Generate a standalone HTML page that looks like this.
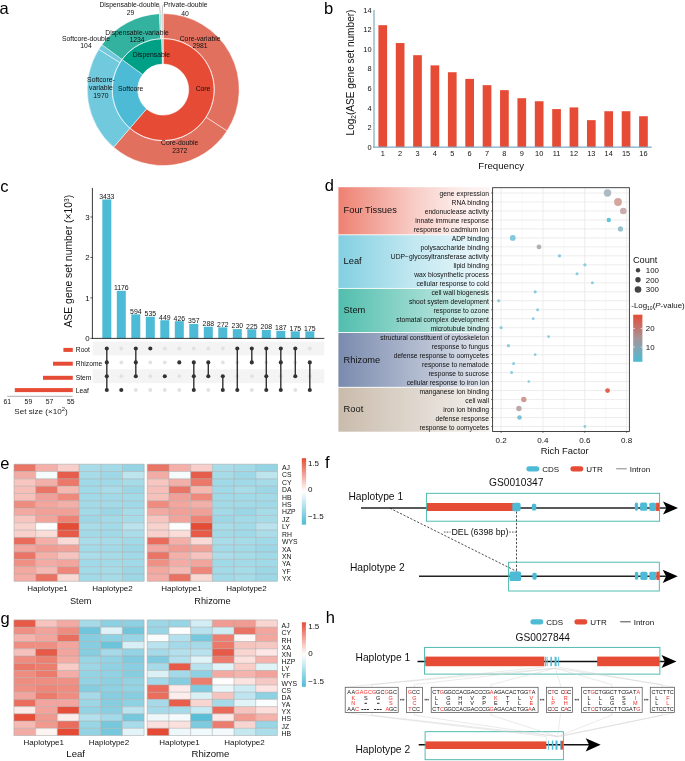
<!DOCTYPE html>
<html><head><meta charset="utf-8"><style>
html,body{margin:0;padding:0;background:#fff;}
svg{display:block;will-change:transform;}
svg text{font-family:"Liberation Sans",sans-serif;}
</style></head><body>
<svg width="685" height="761" viewBox="0 0 685 761" font-family="Liberation Sans">
<rect width="685" height="761" fill="#fff"/>
<text x="-0.50" y="14.00" font-size="16.5" text-anchor="start" fill="#000" >a</text>
<text x="324.00" y="13.80" font-size="16.5" text-anchor="start" fill="#000" >b</text>
<text x="0.30" y="191.80" font-size="16.5" text-anchor="start" fill="#000" >c</text>
<text x="324.80" y="191.40" font-size="16.5" text-anchor="start" fill="#000" >d</text>
<text x="0.20" y="468.50" font-size="16.5" text-anchor="start" fill="#000" >e</text>
<text x="324.90" y="468.00" font-size="16.5" text-anchor="start" fill="#000" >f</text>
<text x="0.50" y="624.00" font-size="16.5" text-anchor="start" fill="#000" >g</text>
<text x="325.80" y="622.80" font-size="16.5" text-anchor="start" fill="#000" >h</text>
<path d="M163.20,13.60 A76.0,76.0 0 0 1 226.99,130.91 L206.01,117.32 A51.0,51.0 0 0 0 163.20,38.60 Z" fill="#E2705F" stroke="#fff" stroke-width="0.5" stroke-linejoin="round"/>
<path d="M226.99,130.91 A76.0,76.0 0 0 1 113.60,147.18 L129.91,128.24 A51.0,51.0 0 0 0 206.01,117.32 Z" fill="#E2705F" stroke="#fff" stroke-width="0.5" stroke-linejoin="round"/>
<path d="M113.60,147.18 A76.0,76.0 0 0 1 98.73,49.35 L119.94,62.59 A51.0,51.0 0 0 0 129.91,128.24 Z" fill="#71C9DD" stroke="#fff" stroke-width="0.5" stroke-linejoin="round"/>
<path d="M98.73,49.35 A76.0,76.0 0 0 1 101.92,44.64 L122.08,59.43 A51.0,51.0 0 0 0 119.94,62.59 Z" fill="#71C9DD" stroke="#fff" stroke-width="0.5" stroke-linejoin="round"/>
<path d="M101.92,44.64 A76.0,76.0 0 0 1 159.43,13.69 L160.67,38.66 A51.0,51.0 0 0 0 122.08,59.43 Z" fill="#33B39F" stroke="#fff" stroke-width="0.5" stroke-linejoin="round"/>
<path d="M159.43,13.69 A76.0,76.0 0 0 1 161.01,13.63 L161.73,38.62 A51.0,51.0 0 0 0 160.67,38.66 Z" fill="#8ED3C6" stroke="#fff" stroke-width="0.5" stroke-linejoin="round"/>
<path d="M161.01,13.63 A76.0,76.0 0 0 1 163.20,13.60 L163.20,38.60 A51.0,51.0 0 0 0 161.73,38.62 Z" fill="#D9CFCF" stroke="#fff" stroke-width="0.5" stroke-linejoin="round"/>
<path d="M163.20,38.60 A51.0,51.0 0 1 1 129.91,128.24 L146.56,108.92 A25.5,25.5 0 1 0 163.20,64.10 Z" fill="#E64B35" stroke="#fff" stroke-width="0.5" stroke-linejoin="round"/>
<path d="M129.91,128.24 A51.0,51.0 0 0 1 122.08,59.43 L142.64,74.52 A25.5,25.5 0 0 0 146.56,108.92 Z" fill="#4DBBD5" stroke="#fff" stroke-width="0.5" stroke-linejoin="round"/>
<path d="M122.08,59.43 A51.0,51.0 0 0 1 161.73,38.62 L162.47,64.11 A25.5,25.5 0 0 0 142.64,74.52 Z" fill="#00A087" stroke="#fff" stroke-width="0.5" stroke-linejoin="round"/>
<path d="M161.73,38.62 A51.0,51.0 0 0 1 163.20,38.60 L163.20,64.10 A25.5,25.5 0 0 0 162.47,64.11 Z" fill="#C9BDBD" stroke="#fff" stroke-width="0.5" stroke-linejoin="round"/>
<circle cx="163.2" cy="89.6" r="51.0" fill="none" stroke="#fff" stroke-width="0.6" stroke-opacity="0.8"/>
<text x="129.50" y="7.20" font-size="6.8" text-anchor="middle" fill="#111" >Dispensable-double</text>
<text x="130.50" y="15.20" font-size="6.8" text-anchor="middle" fill="#111" >29</text>
<text x="163.80" y="7.20" font-size="6.8" text-anchor="start" fill="#111" >Private-double</text>
<text x="185.00" y="15.60" font-size="6.8" text-anchor="middle" fill="#111" >40</text>
<text x="86.00" y="40.60" font-size="6.8" text-anchor="middle" fill="#111" >Softcore-double</text>
<text x="86.00" y="48.00" font-size="6.8" text-anchor="middle" fill="#111" >104</text>
<text x="137.00" y="34.50" font-size="6.8" text-anchor="middle" fill="#111" >Dispensable-variable</text>
<text x="137.00" y="41.70" font-size="6.8" text-anchor="middle" fill="#111" >1234</text>
<text x="200.10" y="40.80" font-size="6.8" text-anchor="middle" fill="#111" >Core-variable</text>
<text x="200.10" y="48.20" font-size="6.8" text-anchor="middle" fill="#111" >2981</text>
<text x="100.90" y="82.20" font-size="6.8" text-anchor="middle" fill="#111" >Softcore-</text>
<text x="100.90" y="90.30" font-size="6.8" text-anchor="middle" fill="#111" >variable</text>
<text x="100.90" y="98.30" font-size="6.8" text-anchor="middle" fill="#111" >1970</text>
<text x="151.40" y="56.50" font-size="6.8" text-anchor="middle" fill="#111" >Dispensable</text>
<text x="130.70" y="91.30" font-size="6.8" text-anchor="middle" fill="#111" >Softcore</text>
<text x="203.00" y="91.10" font-size="6.8" text-anchor="middle" fill="#111" >Core</text>
<text x="179.70" y="145.00" font-size="6.8" text-anchor="middle" fill="#111" >Core-double</text>
<text x="179.70" y="152.60" font-size="6.8" text-anchor="middle" fill="#111" >2372</text>
<path d="M160.3,13.5 L159.6,6.2 L158.6,4.5" fill="none" stroke="#888" stroke-width="0.5"/>
<path d="M162.2,13.5 L162.6,6 L163.6,4.3" fill="none" stroke="#888" stroke-width="0.5"/>
<rect x="378.40" y="25.19" width="8.7" height="122.01" fill="#E64B35"/>
<text x="382.75" y="156.20" font-size="7.4" text-anchor="middle" fill="#111" >1</text>
<rect x="395.78" y="43.03" width="8.7" height="104.17" fill="#E64B35"/>
<text x="400.13" y="156.20" font-size="7.4" text-anchor="middle" fill="#111" >2</text>
<rect x="413.16" y="55.18" width="8.7" height="92.02" fill="#E64B35"/>
<text x="417.51" y="156.20" font-size="7.4" text-anchor="middle" fill="#111" >3</text>
<rect x="430.54" y="65.37" width="8.7" height="81.83" fill="#E64B35"/>
<text x="434.89" y="156.20" font-size="7.4" text-anchor="middle" fill="#111" >4</text>
<rect x="447.92" y="72.23" width="8.7" height="74.97" fill="#E64B35"/>
<text x="452.27" y="156.20" font-size="7.4" text-anchor="middle" fill="#111" >5</text>
<rect x="465.30" y="78.89" width="8.7" height="68.31" fill="#E64B35"/>
<text x="469.65" y="156.20" font-size="7.4" text-anchor="middle" fill="#111" >6</text>
<rect x="482.68" y="85.17" width="8.7" height="62.03" fill="#E64B35"/>
<text x="487.03" y="156.20" font-size="7.4" text-anchor="middle" fill="#111" >7</text>
<rect x="500.06" y="90.16" width="8.7" height="57.04" fill="#E64B35"/>
<text x="504.41" y="156.20" font-size="7.4" text-anchor="middle" fill="#111" >8</text>
<rect x="517.44" y="98.20" width="8.7" height="49.00" fill="#E64B35"/>
<text x="521.79" y="156.20" font-size="7.4" text-anchor="middle" fill="#111" >9</text>
<rect x="534.82" y="101.24" width="8.7" height="45.96" fill="#E64B35"/>
<text x="539.17" y="156.20" font-size="7.4" text-anchor="middle" fill="#111" >10</text>
<rect x="552.20" y="109.08" width="8.7" height="38.12" fill="#E64B35"/>
<text x="556.55" y="156.20" font-size="7.4" text-anchor="middle" fill="#111" >11</text>
<rect x="569.58" y="107.41" width="8.7" height="39.79" fill="#E64B35"/>
<text x="573.93" y="156.20" font-size="7.4" text-anchor="middle" fill="#111" >12</text>
<rect x="586.96" y="120.15" width="8.7" height="27.05" fill="#E64B35"/>
<text x="591.31" y="156.20" font-size="7.4" text-anchor="middle" fill="#111" >13</text>
<rect x="604.34" y="111.23" width="8.7" height="35.97" fill="#E64B35"/>
<text x="608.69" y="156.20" font-size="7.4" text-anchor="middle" fill="#111" >14</text>
<rect x="621.72" y="111.23" width="8.7" height="35.97" fill="#E64B35"/>
<text x="626.07" y="156.20" font-size="7.4" text-anchor="middle" fill="#111" >15</text>
<rect x="639.10" y="116.23" width="8.7" height="30.97" fill="#E64B35"/>
<text x="643.45" y="156.20" font-size="7.4" text-anchor="middle" fill="#111" >16</text>
<line x1="374" y1="10" x2="374" y2="147.79999999999998" stroke="#9DC0D2" stroke-width="1.6"/>
<line x1="373.2" y1="147.2" x2="651.7" y2="147.2" stroke="#7FAEC5" stroke-width="1.2"/>
<text x="371.50" y="149.80" font-size="7.4" text-anchor="end" fill="#111" >0</text>
<text x="371.50" y="130.20" font-size="7.4" text-anchor="end" fill="#111" >2</text>
<text x="371.50" y="110.60" font-size="7.4" text-anchor="end" fill="#111" >4</text>
<text x="371.50" y="91.00" font-size="7.4" text-anchor="end" fill="#111" >6</text>
<text x="371.50" y="71.40" font-size="7.4" text-anchor="end" fill="#111" >8</text>
<text x="371.50" y="51.80" font-size="7.4" text-anchor="end" fill="#111" >10</text>
<text x="371.50" y="32.20" font-size="7.4" text-anchor="end" fill="#111" >12</text>
<text x="371.50" y="12.60" font-size="7.4" text-anchor="end" fill="#111" >14</text>
<text x="501.20" y="169.00" font-size="9.7" text-anchor="middle" fill="#111" >Frequency</text>
<text transform="translate(353.7,72.5) rotate(-90)" font-size="10.1" text-anchor="middle" fill="#111">Log<tspan font-size="6.5" dy="2">2</tspan><tspan dy="-2">(ASE gene set number)</tspan></text>
<rect x="92.7" y="341.6" width="231.6" height="13.8" fill="#F4F4F4"/>
<rect x="92.7" y="369.3" width="231.6" height="13.8" fill="#F4F4F4"/>
<rect x="102.30" y="199.47" width="9" height="138.93" fill="#4DBBD5"/>
<text x="106.80" y="198.87" font-size="6.9" text-anchor="middle" fill="#111" >3433</text>
<line x1="106.80" y1="348.5" x2="106.80" y2="390.0" stroke="#333" stroke-width="1.4"/>
<circle cx="106.80" cy="348.5" r="2.05" fill="#333"/>
<circle cx="106.80" cy="362.4" r="2.05" fill="#333"/>
<circle cx="106.80" cy="376.2" r="2.05" fill="#333"/>
<circle cx="106.80" cy="390.0" r="2.05" fill="#333"/>
<rect x="116.80" y="290.81" width="9" height="47.59" fill="#4DBBD5"/>
<text x="121.30" y="290.21" font-size="6.9" text-anchor="middle" fill="#111" >1176</text>
<circle cx="121.30" cy="348.5" r="1.9" fill="#E2E2E2"/>
<circle cx="121.30" cy="362.4" r="1.9" fill="#E2E2E2"/>
<circle cx="121.30" cy="376.2" r="1.9" fill="#E2E2E2"/>
<circle cx="121.30" cy="390.0" r="2.05" fill="#333"/>
<rect x="131.30" y="314.36" width="9" height="24.04" fill="#4DBBD5"/>
<text x="135.80" y="313.76" font-size="6.9" text-anchor="middle" fill="#111" >594</text>
<circle cx="135.80" cy="390.0" r="1.9" fill="#E2E2E2"/>
<line x1="135.80" y1="348.5" x2="135.80" y2="376.2" stroke="#333" stroke-width="1.4"/>
<circle cx="135.80" cy="348.5" r="2.05" fill="#333"/>
<circle cx="135.80" cy="362.4" r="2.05" fill="#333"/>
<circle cx="135.80" cy="376.2" r="2.05" fill="#333"/>
<rect x="145.80" y="316.75" width="9" height="21.65" fill="#4DBBD5"/>
<text x="150.30" y="316.15" font-size="6.9" text-anchor="middle" fill="#111" >535</text>
<circle cx="150.30" cy="362.4" r="1.9" fill="#E2E2E2"/>
<circle cx="150.30" cy="376.2" r="1.9" fill="#E2E2E2"/>
<circle cx="150.30" cy="390.0" r="1.9" fill="#E2E2E2"/>
<circle cx="150.30" cy="348.5" r="2.05" fill="#333"/>
<rect x="160.30" y="320.23" width="9" height="18.17" fill="#4DBBD5"/>
<text x="164.80" y="319.63" font-size="6.9" text-anchor="middle" fill="#111" >449</text>
<circle cx="164.80" cy="348.5" r="1.9" fill="#E2E2E2"/>
<circle cx="164.80" cy="362.4" r="1.9" fill="#E2E2E2"/>
<circle cx="164.80" cy="390.0" r="1.9" fill="#E2E2E2"/>
<circle cx="164.80" cy="376.2" r="2.05" fill="#333"/>
<rect x="174.80" y="321.16" width="9" height="17.24" fill="#4DBBD5"/>
<text x="179.30" y="320.56" font-size="6.9" text-anchor="middle" fill="#111" >426</text>
<circle cx="179.30" cy="348.5" r="1.9" fill="#E2E2E2"/>
<circle cx="179.30" cy="376.2" r="1.9" fill="#E2E2E2"/>
<circle cx="179.30" cy="390.0" r="1.9" fill="#E2E2E2"/>
<circle cx="179.30" cy="362.4" r="2.05" fill="#333"/>
<rect x="189.30" y="323.95" width="9" height="14.45" fill="#4DBBD5"/>
<text x="193.80" y="323.35" font-size="6.9" text-anchor="middle" fill="#111" >357</text>
<circle cx="193.80" cy="348.5" r="1.9" fill="#E2E2E2"/>
<line x1="193.80" y1="362.4" x2="193.80" y2="390.0" stroke="#333" stroke-width="1.4"/>
<circle cx="193.80" cy="362.4" r="2.05" fill="#333"/>
<circle cx="193.80" cy="376.2" r="2.05" fill="#333"/>
<circle cx="193.80" cy="390.0" r="2.05" fill="#333"/>
<rect x="203.80" y="326.74" width="9" height="11.66" fill="#4DBBD5"/>
<text x="208.30" y="326.14" font-size="6.9" text-anchor="middle" fill="#111" >288</text>
<circle cx="208.30" cy="348.5" r="1.9" fill="#E2E2E2"/>
<circle cx="208.30" cy="390.0" r="1.9" fill="#E2E2E2"/>
<line x1="208.30" y1="362.4" x2="208.30" y2="376.2" stroke="#333" stroke-width="1.4"/>
<circle cx="208.30" cy="362.4" r="2.05" fill="#333"/>
<circle cx="208.30" cy="376.2" r="2.05" fill="#333"/>
<rect x="218.30" y="327.39" width="9" height="11.01" fill="#4DBBD5"/>
<text x="222.80" y="326.79" font-size="6.9" text-anchor="middle" fill="#111" >272</text>
<circle cx="222.80" cy="348.5" r="1.9" fill="#E2E2E2"/>
<circle cx="222.80" cy="362.4" r="1.9" fill="#E2E2E2"/>
<line x1="222.80" y1="376.2" x2="222.80" y2="390.0" stroke="#333" stroke-width="1.4"/>
<circle cx="222.80" cy="376.2" r="2.05" fill="#333"/>
<circle cx="222.80" cy="390.0" r="2.05" fill="#333"/>
<rect x="232.80" y="329.09" width="9" height="9.31" fill="#4DBBD5"/>
<text x="237.30" y="328.49" font-size="6.9" text-anchor="middle" fill="#111" >230</text>
<circle cx="237.30" cy="362.4" r="1.9" fill="#E2E2E2"/>
<circle cx="237.30" cy="376.2" r="1.9" fill="#E2E2E2"/>
<line x1="237.30" y1="348.5" x2="237.30" y2="390.0" stroke="#333" stroke-width="1.4"/>
<circle cx="237.30" cy="348.5" r="2.05" fill="#333"/>
<circle cx="237.30" cy="390.0" r="2.05" fill="#333"/>
<rect x="247.30" y="329.29" width="9" height="9.11" fill="#4DBBD5"/>
<text x="251.80" y="328.69" font-size="6.9" text-anchor="middle" fill="#111" >225</text>
<circle cx="251.80" cy="376.2" r="1.9" fill="#E2E2E2"/>
<circle cx="251.80" cy="390.0" r="1.9" fill="#E2E2E2"/>
<line x1="251.80" y1="348.5" x2="251.80" y2="362.4" stroke="#333" stroke-width="1.4"/>
<circle cx="251.80" cy="348.5" r="2.05" fill="#333"/>
<circle cx="251.80" cy="362.4" r="2.05" fill="#333"/>
<rect x="261.80" y="329.98" width="9" height="8.42" fill="#4DBBD5"/>
<text x="266.30" y="329.38" font-size="6.9" text-anchor="middle" fill="#111" >208</text>
<circle cx="266.30" cy="362.4" r="1.9" fill="#E2E2E2"/>
<line x1="266.30" y1="348.5" x2="266.30" y2="390.0" stroke="#333" stroke-width="1.4"/>
<circle cx="266.30" cy="348.5" r="2.05" fill="#333"/>
<circle cx="266.30" cy="376.2" r="2.05" fill="#333"/>
<circle cx="266.30" cy="390.0" r="2.05" fill="#333"/>
<rect x="276.30" y="330.83" width="9" height="7.57" fill="#4DBBD5"/>
<text x="280.80" y="330.23" font-size="6.9" text-anchor="middle" fill="#111" >187</text>
<circle cx="280.80" cy="376.2" r="1.9" fill="#E2E2E2"/>
<line x1="280.80" y1="348.5" x2="280.80" y2="390.0" stroke="#333" stroke-width="1.4"/>
<circle cx="280.80" cy="348.5" r="2.05" fill="#333"/>
<circle cx="280.80" cy="362.4" r="2.05" fill="#333"/>
<circle cx="280.80" cy="390.0" r="2.05" fill="#333"/>
<rect x="290.80" y="331.32" width="9" height="7.08" fill="#4DBBD5"/>
<text x="295.30" y="330.72" font-size="6.9" text-anchor="middle" fill="#111" >175</text>
<circle cx="295.30" cy="362.4" r="1.9" fill="#E2E2E2"/>
<circle cx="295.30" cy="390.0" r="1.9" fill="#E2E2E2"/>
<line x1="295.30" y1="348.5" x2="295.30" y2="376.2" stroke="#333" stroke-width="1.4"/>
<circle cx="295.30" cy="348.5" r="2.05" fill="#333"/>
<circle cx="295.30" cy="376.2" r="2.05" fill="#333"/>
<rect x="305.30" y="331.32" width="9" height="7.08" fill="#4DBBD5"/>
<text x="309.80" y="330.72" font-size="6.9" text-anchor="middle" fill="#111" >175</text>
<circle cx="309.80" cy="348.5" r="1.9" fill="#E2E2E2"/>
<circle cx="309.80" cy="376.2" r="1.9" fill="#E2E2E2"/>
<line x1="309.80" y1="362.4" x2="309.80" y2="390.0" stroke="#333" stroke-width="1.4"/>
<circle cx="309.80" cy="362.4" r="2.05" fill="#333"/>
<circle cx="309.80" cy="390.0" r="2.05" fill="#333"/>
<line x1="92.4" y1="187.9" x2="92.4" y2="338.9" stroke="#222" stroke-width="0.9"/>
<line x1="92" y1="338.4" x2="324.3" y2="338.4" stroke="#222" stroke-width="0.9"/>
<line x1="90.3" y1="338.4" x2="92.4" y2="338.4" stroke="#222" stroke-width="0.7"/>
<text x="89.70" y="341.20" font-size="7.9" text-anchor="end" fill="#111" >0</text>
<line x1="90.3" y1="297.92999999999995" x2="92.4" y2="297.92999999999995" stroke="#222" stroke-width="0.7"/>
<text x="89.70" y="300.73" font-size="7.9" text-anchor="end" fill="#111" >1</text>
<line x1="90.3" y1="257.46" x2="92.4" y2="257.46" stroke="#222" stroke-width="0.7"/>
<text x="89.70" y="260.26" font-size="7.9" text-anchor="end" fill="#111" >2</text>
<line x1="90.3" y1="216.98999999999998" x2="92.4" y2="216.98999999999998" stroke="#222" stroke-width="0.7"/>
<text x="89.70" y="219.79" font-size="7.9" text-anchor="end" fill="#111" >3</text>
<text transform="translate(72,261.2) rotate(-90)" font-size="10.4" text-anchor="middle" fill="#111">ASE gene set number (×10<tspan font-size="6.5" dy="-3.5">3</tspan><tspan dy="3.5">)</tspan></text>
<rect x="63.4" y="347.90" width="9.40" height="4.0" fill="#E64B35"/>
<text x="75.80" y="352.40" font-size="6.7" text-anchor="start" fill="#111" >Root</text>
<rect x="53" y="361.70" width="19.80" height="4.0" fill="#E64B35"/>
<text x="75.80" y="366.20" font-size="6.7" text-anchor="start" fill="#111" >Rhizome</text>
<rect x="43" y="375.80" width="29.80" height="4.0" fill="#E64B35"/>
<text x="75.80" y="380.30" font-size="6.7" text-anchor="start" fill="#111" >Stem</text>
<rect x="14.8" y="388.10" width="58.00" height="4.0" fill="#E64B35"/>
<text x="75.80" y="392.60" font-size="6.7" text-anchor="start" fill="#111" >Leaf</text>
<line x1="7.2" y1="396.3" x2="72.7" y2="396.3" stroke="#999" stroke-width="0.8"/>
<text x="7.20" y="403.60" font-size="6.8" text-anchor="middle" fill="#111" >61</text>
<text x="28.40" y="403.60" font-size="6.8" text-anchor="middle" fill="#111" >59</text>
<text x="49.60" y="403.60" font-size="6.8" text-anchor="middle" fill="#111" >57</text>
<text x="70.80" y="403.60" font-size="6.8" text-anchor="middle" fill="#111" >55</text>
<text x="41" y="414.2" font-size="8.1" text-anchor="middle" fill="#222">Set size (×10<tspan font-size="5.8" dy="-3">2</tspan><tspan dy="3">)</tspan></text>
<defs>
<linearGradient id="g0" x1="0" x2="1" y1="0" y2="0"><stop offset="0" stop-color="rgb(230, 75, 53)" stop-opacity="0.7"/><stop offset="0.5" stop-color="rgb(230, 75, 53)" stop-opacity="0.28"/><stop offset="0.8" stop-color="rgb(230, 75, 53)" stop-opacity="0.1"/><stop offset="1" stop-color="rgb(230, 75, 53)" stop-opacity="0.06"/></linearGradient>
<linearGradient id="g1" x1="0" x2="1" y1="0" y2="0"><stop offset="0" stop-color="rgb(77, 187, 213)" stop-opacity="0.7"/><stop offset="0.5" stop-color="rgb(77, 187, 213)" stop-opacity="0.34"/><stop offset="1" stop-color="rgb(77, 187, 213)" stop-opacity="0.09"/></linearGradient>
<linearGradient id="g2" x1="0" x2="1" y1="0" y2="0"><stop offset="0" stop-color="rgb(0, 160, 135)" stop-opacity="0.68"/><stop offset="1" stop-color="rgb(0, 160, 135)" stop-opacity="0.14"/></linearGradient>
<linearGradient id="g3" x1="0" x2="1" y1="0" y2="0"><stop offset="0" stop-color="rgb(60, 84, 136)" stop-opacity="0.68"/><stop offset="1" stop-color="rgb(60, 84, 136)" stop-opacity="0.14"/></linearGradient>
<linearGradient id="g4" x1="0" x2="1" y1="0" y2="0"><stop offset="0" stop-color="rgb(176, 156, 133)" stop-opacity="0.68"/><stop offset="1" stop-color="rgb(176, 156, 133)" stop-opacity="0.14"/></linearGradient>
<linearGradient id="cbar" x1="0" x2="0" y1="0" y2="1"><stop offset="0" stop-color="#E64B35"/><stop offset="0.5" stop-color="#A69599"/><stop offset="1" stop-color="#4DBBD5"/></linearGradient>
<linearGradient id="hbar" x1="0" x2="0" y1="0" y2="1"><stop offset="0" stop-color="#E64B35"/><stop offset="0.5" stop-color="#FFFFFF"/><stop offset="1" stop-color="#4DBBD5"/></linearGradient>
</defs>
<rect x="338.4" y="187.20" width="151.4" height="47.15" fill="url(#g0)"/>
<text x="343.60" y="213.38" font-size="9.3" text-anchor="start" fill="#111" >Four Tissues</text>
<rect x="338.4" y="235.25" width="151.4" height="52.70" fill="url(#g1)"/>
<text x="343.60" y="264.20" font-size="9.3" text-anchor="start" fill="#111" >Leaf</text>
<rect x="338.4" y="288.85" width="151.4" height="43.25" fill="url(#g2)"/>
<text x="343.60" y="313.08" font-size="9.3" text-anchor="start" fill="#111" >Stem</text>
<rect x="338.4" y="333.00" width="151.4" height="53.85" fill="url(#g3)"/>
<text x="343.60" y="362.53" font-size="9.3" text-anchor="start" fill="#111" >Rhizome</text>
<rect x="338.4" y="387.75" width="151.4" height="43.95" fill="url(#g4)"/>
<text x="343.60" y="412.33" font-size="9.3" text-anchor="start" fill="#111" >Root</text>
<rect x="492.6" y="187.7" width="136.8" height="243.8" fill="#fff"/>
<line x1="522.02" y1="187.7" x2="522.02" y2="431.5" stroke="#F3F3F3" stroke-width="0.6"/>
<line x1="563.86" y1="187.7" x2="563.86" y2="431.5" stroke="#F3F3F3" stroke-width="0.6"/>
<line x1="605.70" y1="187.7" x2="605.70" y2="431.5" stroke="#F3F3F3" stroke-width="0.6"/>
<line x1="501.10" y1="187.7" x2="501.10" y2="431.5" stroke="#E8E8E8" stroke-width="0.8"/>
<line x1="542.94" y1="187.7" x2="542.94" y2="431.5" stroke="#E8E8E8" stroke-width="0.8"/>
<line x1="584.78" y1="187.7" x2="584.78" y2="431.5" stroke="#E8E8E8" stroke-width="0.8"/>
<line x1="626.62" y1="187.7" x2="626.62" y2="431.5" stroke="#E8E8E8" stroke-width="0.8"/>
<line x1="492.6" y1="193.00" x2="629.4" y2="193.00" stroke="#E8E8E8" stroke-width="0.8"/>
<line x1="491" y1="193.00" x2="492.6" y2="193.00" stroke="#333" stroke-width="0.6"/>
<text x="488.90" y="196.30" font-size="6.72" text-anchor="end" fill="#111" >gene expression</text>
<line x1="492.6" y1="201.98" x2="629.4" y2="201.98" stroke="#E8E8E8" stroke-width="0.8"/>
<line x1="491" y1="201.98" x2="492.6" y2="201.98" stroke="#333" stroke-width="0.6"/>
<text x="488.90" y="205.28" font-size="6.72" text-anchor="end" fill="#111" >RNA binding</text>
<line x1="492.6" y1="210.96" x2="629.4" y2="210.96" stroke="#E8E8E8" stroke-width="0.8"/>
<line x1="491" y1="210.96" x2="492.6" y2="210.96" stroke="#333" stroke-width="0.6"/>
<text x="488.90" y="214.26" font-size="6.72" text-anchor="end" fill="#111" >endonuclease activity</text>
<line x1="492.6" y1="219.94" x2="629.4" y2="219.94" stroke="#E8E8E8" stroke-width="0.8"/>
<line x1="491" y1="219.94" x2="492.6" y2="219.94" stroke="#333" stroke-width="0.6"/>
<text x="488.90" y="223.24" font-size="6.72" text-anchor="end" fill="#111" >innate immune response</text>
<line x1="492.6" y1="228.92" x2="629.4" y2="228.92" stroke="#E8E8E8" stroke-width="0.8"/>
<line x1="491" y1="228.92" x2="492.6" y2="228.92" stroke="#333" stroke-width="0.6"/>
<text x="488.90" y="232.22" font-size="6.72" text-anchor="end" fill="#111" >response to cadmium ion</text>
<line x1="492.6" y1="237.90" x2="629.4" y2="237.90" stroke="#E8E8E8" stroke-width="0.8"/>
<line x1="491" y1="237.90" x2="492.6" y2="237.90" stroke="#333" stroke-width="0.6"/>
<text x="488.90" y="241.20" font-size="6.72" text-anchor="end" fill="#111" >ADP binding</text>
<line x1="492.6" y1="246.88" x2="629.4" y2="246.88" stroke="#E8E8E8" stroke-width="0.8"/>
<line x1="491" y1="246.88" x2="492.6" y2="246.88" stroke="#333" stroke-width="0.6"/>
<text x="488.90" y="250.18" font-size="6.72" text-anchor="end" fill="#111" >polysaccharide binding</text>
<line x1="492.6" y1="255.86" x2="629.4" y2="255.86" stroke="#E8E8E8" stroke-width="0.8"/>
<line x1="491" y1="255.86" x2="492.6" y2="255.86" stroke="#333" stroke-width="0.6"/>
<text x="488.90" y="259.16" font-size="6.72" text-anchor="end" fill="#111" >UDP−glycosyltransferase activity</text>
<line x1="492.6" y1="264.84" x2="629.4" y2="264.84" stroke="#E8E8E8" stroke-width="0.8"/>
<line x1="491" y1="264.84" x2="492.6" y2="264.84" stroke="#333" stroke-width="0.6"/>
<text x="488.90" y="268.14" font-size="6.72" text-anchor="end" fill="#111" >lipid binding</text>
<line x1="492.6" y1="273.82" x2="629.4" y2="273.82" stroke="#E8E8E8" stroke-width="0.8"/>
<line x1="491" y1="273.82" x2="492.6" y2="273.82" stroke="#333" stroke-width="0.6"/>
<text x="488.90" y="277.12" font-size="6.72" text-anchor="end" fill="#111" >wax biosynthetic process</text>
<line x1="492.6" y1="282.80" x2="629.4" y2="282.80" stroke="#E8E8E8" stroke-width="0.8"/>
<line x1="491" y1="282.80" x2="492.6" y2="282.80" stroke="#333" stroke-width="0.6"/>
<text x="488.90" y="286.10" font-size="6.72" text-anchor="end" fill="#111" >cellular response to cold</text>
<line x1="492.6" y1="291.78" x2="629.4" y2="291.78" stroke="#E8E8E8" stroke-width="0.8"/>
<line x1="491" y1="291.78" x2="492.6" y2="291.78" stroke="#333" stroke-width="0.6"/>
<text x="488.90" y="295.08" font-size="6.72" text-anchor="end" fill="#111" >cell wall biogenesis</text>
<line x1="492.6" y1="300.76" x2="629.4" y2="300.76" stroke="#E8E8E8" stroke-width="0.8"/>
<line x1="491" y1="300.76" x2="492.6" y2="300.76" stroke="#333" stroke-width="0.6"/>
<text x="488.90" y="304.06" font-size="6.72" text-anchor="end" fill="#111" >shoot system development</text>
<line x1="492.6" y1="309.74" x2="629.4" y2="309.74" stroke="#E8E8E8" stroke-width="0.8"/>
<line x1="491" y1="309.74" x2="492.6" y2="309.74" stroke="#333" stroke-width="0.6"/>
<text x="488.90" y="313.04" font-size="6.72" text-anchor="end" fill="#111" >response to ozone</text>
<line x1="492.6" y1="318.72" x2="629.4" y2="318.72" stroke="#E8E8E8" stroke-width="0.8"/>
<line x1="491" y1="318.72" x2="492.6" y2="318.72" stroke="#333" stroke-width="0.6"/>
<text x="488.90" y="322.02" font-size="6.72" text-anchor="end" fill="#111" >stomatal complex development</text>
<line x1="492.6" y1="327.70" x2="629.4" y2="327.70" stroke="#E8E8E8" stroke-width="0.8"/>
<line x1="491" y1="327.70" x2="492.6" y2="327.70" stroke="#333" stroke-width="0.6"/>
<text x="488.90" y="331.00" font-size="6.72" text-anchor="end" fill="#111" >microtubule binding</text>
<line x1="492.6" y1="336.68" x2="629.4" y2="336.68" stroke="#E8E8E8" stroke-width="0.8"/>
<line x1="491" y1="336.68" x2="492.6" y2="336.68" stroke="#333" stroke-width="0.6"/>
<text x="488.90" y="339.98" font-size="6.72" text-anchor="end" fill="#111" >structural constituent of cytoskeleton</text>
<line x1="492.6" y1="345.66" x2="629.4" y2="345.66" stroke="#E8E8E8" stroke-width="0.8"/>
<line x1="491" y1="345.66" x2="492.6" y2="345.66" stroke="#333" stroke-width="0.6"/>
<text x="488.90" y="348.96" font-size="6.72" text-anchor="end" fill="#111" >response to fungus</text>
<line x1="492.6" y1="354.64" x2="629.4" y2="354.64" stroke="#E8E8E8" stroke-width="0.8"/>
<line x1="491" y1="354.64" x2="492.6" y2="354.64" stroke="#333" stroke-width="0.6"/>
<text x="488.90" y="357.94" font-size="6.72" text-anchor="end" fill="#111" >defense response to oomycetes</text>
<line x1="492.6" y1="363.62" x2="629.4" y2="363.62" stroke="#E8E8E8" stroke-width="0.8"/>
<line x1="491" y1="363.62" x2="492.6" y2="363.62" stroke="#333" stroke-width="0.6"/>
<text x="488.90" y="366.92" font-size="6.72" text-anchor="end" fill="#111" >response to nematode</text>
<line x1="492.6" y1="372.60" x2="629.4" y2="372.60" stroke="#E8E8E8" stroke-width="0.8"/>
<line x1="491" y1="372.60" x2="492.6" y2="372.60" stroke="#333" stroke-width="0.6"/>
<text x="488.90" y="375.90" font-size="6.72" text-anchor="end" fill="#111" >response to sucrose</text>
<line x1="492.6" y1="381.58" x2="629.4" y2="381.58" stroke="#E8E8E8" stroke-width="0.8"/>
<line x1="491" y1="381.58" x2="492.6" y2="381.58" stroke="#333" stroke-width="0.6"/>
<text x="488.90" y="384.88" font-size="6.72" text-anchor="end" fill="#111" >cellular response to iron ion</text>
<line x1="492.6" y1="390.56" x2="629.4" y2="390.56" stroke="#E8E8E8" stroke-width="0.8"/>
<line x1="491" y1="390.56" x2="492.6" y2="390.56" stroke="#333" stroke-width="0.6"/>
<text x="488.90" y="393.86" font-size="6.72" text-anchor="end" fill="#111" >manganese ion binding</text>
<line x1="492.6" y1="399.54" x2="629.4" y2="399.54" stroke="#E8E8E8" stroke-width="0.8"/>
<line x1="491" y1="399.54" x2="492.6" y2="399.54" stroke="#333" stroke-width="0.6"/>
<text x="488.90" y="402.84" font-size="6.72" text-anchor="end" fill="#111" >cell wall</text>
<line x1="492.6" y1="408.52" x2="629.4" y2="408.52" stroke="#E8E8E8" stroke-width="0.8"/>
<line x1="491" y1="408.52" x2="492.6" y2="408.52" stroke="#333" stroke-width="0.6"/>
<text x="488.90" y="411.82" font-size="6.72" text-anchor="end" fill="#111" >iron ion binding</text>
<line x1="492.6" y1="417.50" x2="629.4" y2="417.50" stroke="#E8E8E8" stroke-width="0.8"/>
<line x1="491" y1="417.50" x2="492.6" y2="417.50" stroke="#333" stroke-width="0.6"/>
<text x="488.90" y="420.80" font-size="6.72" text-anchor="end" fill="#111" >defense response</text>
<line x1="492.6" y1="426.48" x2="629.4" y2="426.48" stroke="#E8E8E8" stroke-width="0.8"/>
<line x1="491" y1="426.48" x2="492.6" y2="426.48" stroke="#333" stroke-width="0.6"/>
<text x="488.90" y="429.78" font-size="6.72" text-anchor="end" fill="#111" >response to oomycetes</text>
<circle cx="607.5" cy="193.00" r="3.7" fill="#ADBAC2"/>
<circle cx="618" cy="201.98" r="3.9" fill="#D3A7A0"/>
<circle cx="623.3" cy="210.96" r="3.3" fill="#C8AEAD"/>
<circle cx="608.8" cy="219.94" r="2.2" fill="#62C4DC"/>
<circle cx="620.5" cy="228.92" r="2.6" fill="#98C1CD"/>
<circle cx="512.8" cy="237.90" r="2.85" fill="#80C8DC"/>
<circle cx="539" cy="246.88" r="2.4" fill="#B4AFB6"/>
<circle cx="559.5" cy="255.86" r="1.7" fill="#8BCCDF"/>
<circle cx="584.9" cy="264.84" r="1.6" fill="#8BCCDF"/>
<circle cx="577" cy="273.82" r="1.5" fill="#8BCCDF"/>
<circle cx="592.4" cy="282.80" r="1.5" fill="#8BCCDF"/>
<circle cx="535.2" cy="291.78" r="1.6" fill="#8BCCDF"/>
<circle cx="498.7" cy="300.76" r="1.6" fill="#8BCCDF"/>
<circle cx="537.6" cy="309.74" r="1.5" fill="#8BCCDF"/>
<circle cx="533.2" cy="318.72" r="1.4" fill="#8BCCDF"/>
<circle cx="501.1" cy="327.70" r="1.6" fill="#8BCCDF"/>
<circle cx="548.6" cy="336.68" r="1.4" fill="#8BCCDF"/>
<circle cx="508.4" cy="345.66" r="1.6" fill="#8BCCDF"/>
<circle cx="535.2" cy="354.64" r="1.3" fill="#8BCCDF"/>
<circle cx="513.6" cy="363.62" r="1.5" fill="#8BCCDF"/>
<circle cx="511.6" cy="372.60" r="1.5" fill="#8BCCDF"/>
<circle cx="528.8" cy="381.58" r="1.3" fill="#8BCCDF"/>
<circle cx="607.6" cy="390.56" r="2.4" fill="#E5604B"/>
<circle cx="523.8" cy="399.54" r="2.7" fill="#CF9A93"/>
<circle cx="518.9" cy="408.52" r="2.7" fill="#BCA9AB"/>
<circle cx="519.5" cy="417.50" r="2.3" fill="#7CC2D6"/>
<circle cx="584.9" cy="426.48" r="1.4" fill="#8BCCDF"/>
<rect x="492.6" y="187.7" width="136.8" height="243.8" fill="none" stroke="#333" stroke-width="0.9"/>
<line x1="501.10" y1="431.5" x2="501.10" y2="433" stroke="#333" stroke-width="0.6"/>
<text x="501.10" y="442.50" font-size="8.1" text-anchor="middle" fill="#111" >0.2</text>
<line x1="542.94" y1="431.5" x2="542.94" y2="433" stroke="#333" stroke-width="0.6"/>
<text x="542.94" y="442.50" font-size="8.1" text-anchor="middle" fill="#111" >0.4</text>
<line x1="584.78" y1="431.5" x2="584.78" y2="433" stroke="#333" stroke-width="0.6"/>
<text x="584.78" y="442.50" font-size="8.1" text-anchor="middle" fill="#111" >0.6</text>
<line x1="626.62" y1="431.5" x2="626.62" y2="433" stroke="#333" stroke-width="0.6"/>
<text x="626.62" y="442.50" font-size="8.1" text-anchor="middle" fill="#111" >0.8</text>
<text x="564.70" y="454.20" font-size="9.35" text-anchor="middle" fill="#111" >Rich Factor</text>
<text x="632.90" y="262.90" font-size="9.2" text-anchor="start" fill="#111" >Count</text>
<circle cx="638" cy="270.2" r="2.2" fill="#444"/>
<text x="645.80" y="273.00" font-size="7.9" text-anchor="start" fill="#111" >100</text>
<circle cx="638" cy="279.7" r="2.7" fill="#444"/>
<text x="645.80" y="282.50" font-size="7.9" text-anchor="start" fill="#111" >200</text>
<circle cx="638" cy="289.5" r="3.3" fill="#444"/>
<text x="645.80" y="292.30" font-size="7.9" text-anchor="start" fill="#111" >300</text>
<text x="631.3" y="308.3" font-size="7.9" fill="#111">-Log<tspan font-size="5" dy="1.5">10</tspan><tspan dy="-1.5">(</tspan><tspan font-style="italic">P</tspan>-value)</text>
<rect x="633.2" y="314.7" width="9.2" height="47.1" fill="url(#cbar)"/>
<line x1="633.2" y1="328.5" x2="635" y2="328.5" stroke="#fff" stroke-width="0.6"/><line x1="640.6" y1="328.5" x2="642.4" y2="328.5" stroke="#fff" stroke-width="0.6"/>
<text x="645.80" y="331.30" font-size="7.9" text-anchor="start" fill="#111" >20</text>
<line x1="633.2" y1="347.1" x2="635" y2="347.1" stroke="#fff" stroke-width="0.6"/><line x1="640.6" y1="347.1" x2="642.4" y2="347.1" stroke="#fff" stroke-width="0.6"/>
<text x="645.80" y="349.90" font-size="7.9" text-anchor="start" fill="#111" >10</text>
<rect x="14.00" y="464.20" width="21.70" height="7.32" fill="#E97566"/>
<rect x="35.70" y="464.20" width="21.70" height="7.32" fill="#F3AFA8"/>
<rect x="57.40" y="464.20" width="21.70" height="7.32" fill="#F8CECA"/>
<rect x="79.10" y="464.20" width="21.70" height="7.32" fill="#A8DCE8"/>
<rect x="100.80" y="464.20" width="21.70" height="7.32" fill="#A3DAE8"/>
<rect x="122.50" y="464.20" width="21.70" height="7.32" fill="#95D4E4"/>
<rect x="14.00" y="471.52" width="21.70" height="7.32" fill="#F3ACA5"/>
<rect x="35.70" y="471.52" width="21.70" height="7.32" fill="#F5FCFD"/>
<rect x="57.40" y="471.52" width="21.70" height="7.32" fill="#E65E4B"/>
<rect x="79.10" y="471.52" width="21.70" height="7.32" fill="#A6DBE8"/>
<rect x="100.80" y="471.52" width="21.70" height="7.32" fill="#9ED8E6"/>
<rect x="122.50" y="471.52" width="21.70" height="7.32" fill="#BDE5EE"/>
<rect x="14.00" y="478.84" width="21.70" height="7.32" fill="#F7C6C1"/>
<rect x="35.70" y="478.84" width="21.70" height="7.32" fill="#F3B0A9"/>
<rect x="57.40" y="478.84" width="21.70" height="7.32" fill="#EB7868"/>
<rect x="79.10" y="478.84" width="21.70" height="7.32" fill="#A0D9E7"/>
<rect x="100.80" y="478.84" width="21.70" height="7.32" fill="#A0D9E7"/>
<rect x="122.50" y="478.84" width="21.70" height="7.32" fill="#A6DBE8"/>
<rect x="14.00" y="486.16" width="21.70" height="7.32" fill="#F6BFBA"/>
<rect x="35.70" y="486.16" width="21.70" height="7.32" fill="#EA7566"/>
<rect x="57.40" y="486.16" width="21.70" height="7.32" fill="#F5B9B2"/>
<rect x="79.10" y="486.16" width="21.70" height="7.32" fill="#A0D9E7"/>
<rect x="100.80" y="486.16" width="21.70" height="7.32" fill="#A8DCE9"/>
<rect x="122.50" y="486.16" width="21.70" height="7.32" fill="#9DD7E6"/>
<rect x="14.00" y="493.48" width="21.70" height="7.32" fill="#F6C0BB"/>
<rect x="35.70" y="493.48" width="21.70" height="7.32" fill="#F0A098"/>
<rect x="57.40" y="493.48" width="21.70" height="7.32" fill="#EE897C"/>
<rect x="79.10" y="493.48" width="21.70" height="7.32" fill="#A0D9E7"/>
<rect x="100.80" y="493.48" width="21.70" height="7.32" fill="#A0D9E7"/>
<rect x="122.50" y="493.48" width="21.70" height="7.32" fill="#A3DAE8"/>
<rect x="14.00" y="500.80" width="21.70" height="7.32" fill="#EF8C80"/>
<rect x="35.70" y="500.80" width="21.70" height="7.32" fill="#F2A69E"/>
<rect x="57.40" y="500.80" width="21.70" height="7.32" fill="#F3B0A8"/>
<rect x="79.10" y="500.80" width="21.70" height="7.32" fill="#A3DAE8"/>
<rect x="100.80" y="500.80" width="21.70" height="7.32" fill="#A3DAE8"/>
<rect x="122.50" y="500.80" width="21.70" height="7.32" fill="#A0D9E7"/>
<rect x="14.00" y="508.12" width="21.70" height="7.32" fill="#F2A9A2"/>
<rect x="35.70" y="508.12" width="21.70" height="7.32" fill="#F0A097"/>
<rect x="57.40" y="508.12" width="21.70" height="7.32" fill="#F0A097"/>
<rect x="79.10" y="508.12" width="21.70" height="7.32" fill="#A3DAE8"/>
<rect x="100.80" y="508.12" width="21.70" height="7.32" fill="#9AD6E6"/>
<rect x="122.50" y="508.12" width="21.70" height="7.32" fill="#A6DBE8"/>
<rect x="14.00" y="515.44" width="21.70" height="7.32" fill="#F7C5C0"/>
<rect x="35.70" y="515.44" width="21.70" height="7.32" fill="#F1A49B"/>
<rect x="57.40" y="515.44" width="21.70" height="7.32" fill="#EE8274"/>
<rect x="79.10" y="515.44" width="21.70" height="7.32" fill="#9DD7E6"/>
<rect x="100.80" y="515.44" width="21.70" height="7.32" fill="#A3DAE8"/>
<rect x="122.50" y="515.44" width="21.70" height="7.32" fill="#A6DBE8"/>
<rect x="14.00" y="522.76" width="21.70" height="7.32" fill="#F8D2CD"/>
<rect x="35.70" y="522.76" width="21.70" height="7.32" fill="#FFFFFF"/>
<rect x="57.40" y="522.76" width="21.70" height="7.32" fill="#E44C36"/>
<rect x="79.10" y="522.76" width="21.70" height="7.32" fill="#A8DCE9"/>
<rect x="100.80" y="522.76" width="21.70" height="7.32" fill="#A3DAE8"/>
<rect x="122.50" y="522.76" width="21.70" height="7.32" fill="#BAE3EE"/>
<rect x="14.00" y="530.08" width="21.70" height="7.32" fill="#F8D1CC"/>
<rect x="35.70" y="530.08" width="21.70" height="7.32" fill="#FADDD9"/>
<rect x="57.40" y="530.08" width="21.70" height="7.32" fill="#E65A47"/>
<rect x="79.10" y="530.08" width="21.70" height="7.32" fill="#A3DAE8"/>
<rect x="100.80" y="530.08" width="21.70" height="7.32" fill="#A0D9E7"/>
<rect x="122.50" y="530.08" width="21.70" height="7.32" fill="#AADDE9"/>
<rect x="14.00" y="537.40" width="21.70" height="7.32" fill="#E96B5C"/>
<rect x="35.70" y="537.40" width="21.70" height="7.32" fill="#F3AFA8"/>
<rect x="57.40" y="537.40" width="21.70" height="7.32" fill="#FADAD6"/>
<rect x="79.10" y="537.40" width="21.70" height="7.32" fill="#A8DCE9"/>
<rect x="100.80" y="537.40" width="21.70" height="7.32" fill="#A6DBE8"/>
<rect x="122.50" y="537.40" width="21.70" height="7.32" fill="#A0D9E7"/>
<rect x="14.00" y="544.72" width="21.70" height="7.32" fill="#F2A69F"/>
<rect x="35.70" y="544.72" width="21.70" height="7.32" fill="#F09C93"/>
<rect x="57.40" y="544.72" width="21.70" height="7.32" fill="#F0A198"/>
<rect x="79.10" y="544.72" width="21.70" height="7.32" fill="#A3DAE8"/>
<rect x="100.80" y="544.72" width="21.70" height="7.32" fill="#A3DAE8"/>
<rect x="122.50" y="544.72" width="21.70" height="7.32" fill="#9DD7E6"/>
<rect x="14.00" y="552.04" width="21.70" height="7.32" fill="#EA7566"/>
<rect x="35.70" y="552.04" width="21.70" height="7.32" fill="#F3B0A9"/>
<rect x="57.40" y="552.04" width="21.70" height="7.32" fill="#F6C3BE"/>
<rect x="79.10" y="552.04" width="21.70" height="7.32" fill="#AADDE9"/>
<rect x="100.80" y="552.04" width="21.70" height="7.32" fill="#A6DBE8"/>
<rect x="122.50" y="552.04" width="21.70" height="7.32" fill="#A0D9E7"/>
<rect x="14.00" y="559.36" width="21.70" height="7.32" fill="#EF9084"/>
<rect x="35.70" y="559.36" width="21.70" height="7.32" fill="#F3ACA5"/>
<rect x="57.40" y="559.36" width="21.70" height="7.32" fill="#F1A59D"/>
<rect x="79.10" y="559.36" width="21.70" height="7.32" fill="#A0D9E7"/>
<rect x="100.80" y="559.36" width="21.70" height="7.32" fill="#A3DAE8"/>
<rect x="122.50" y="559.36" width="21.70" height="7.32" fill="#A0D9E7"/>
<rect x="14.00" y="566.68" width="21.70" height="7.32" fill="#F2A79F"/>
<rect x="35.70" y="566.68" width="21.70" height="7.32" fill="#F5BAB4"/>
<rect x="57.40" y="566.68" width="21.70" height="7.32" fill="#EE8679"/>
<rect x="79.10" y="566.68" width="21.70" height="7.32" fill="#A3DAE8"/>
<rect x="100.80" y="566.68" width="21.70" height="7.32" fill="#A6DBE8"/>
<rect x="122.50" y="566.68" width="21.70" height="7.32" fill="#9DD7E6"/>
<rect x="14.00" y="574.00" width="21.70" height="7.32" fill="#F3ADA6"/>
<rect x="35.70" y="574.00" width="21.70" height="7.32" fill="#EA7263"/>
<rect x="57.40" y="574.00" width="21.70" height="7.32" fill="#F9D8D4"/>
<rect x="79.10" y="574.00" width="21.70" height="7.32" fill="#A3DAE8"/>
<rect x="100.80" y="574.00" width="21.70" height="7.32" fill="#A6DBE8"/>
<rect x="122.50" y="574.00" width="21.70" height="7.32" fill="#9DD7E6"/>
<line x1="14.00" y1="464.2" x2="14.00" y2="581.32" stroke="#A8A8A8" stroke-width="0.55"/>
<line x1="35.70" y1="464.2" x2="35.70" y2="581.32" stroke="#A8A8A8" stroke-width="0.55"/>
<line x1="57.40" y1="464.2" x2="57.40" y2="581.32" stroke="#A8A8A8" stroke-width="0.55"/>
<line x1="79.10" y1="464.2" x2="79.10" y2="581.32" stroke="#A8A8A8" stroke-width="0.55"/>
<line x1="100.80" y1="464.2" x2="100.80" y2="581.32" stroke="#A8A8A8" stroke-width="0.55"/>
<line x1="122.50" y1="464.2" x2="122.50" y2="581.32" stroke="#A8A8A8" stroke-width="0.55"/>
<line x1="144.20" y1="464.2" x2="144.20" y2="581.32" stroke="#A8A8A8" stroke-width="0.55"/>
<line x1="14.0" y1="464.20" x2="144.20" y2="464.20" stroke="#A8A8A8" stroke-width="0.55"/>
<line x1="14.0" y1="471.52" x2="144.20" y2="471.52" stroke="#A8A8A8" stroke-width="0.55"/>
<line x1="14.0" y1="478.84" x2="144.20" y2="478.84" stroke="#A8A8A8" stroke-width="0.55"/>
<line x1="14.0" y1="486.16" x2="144.20" y2="486.16" stroke="#A8A8A8" stroke-width="0.55"/>
<line x1="14.0" y1="493.48" x2="144.20" y2="493.48" stroke="#A8A8A8" stroke-width="0.55"/>
<line x1="14.0" y1="500.80" x2="144.20" y2="500.80" stroke="#A8A8A8" stroke-width="0.55"/>
<line x1="14.0" y1="508.12" x2="144.20" y2="508.12" stroke="#A8A8A8" stroke-width="0.55"/>
<line x1="14.0" y1="515.44" x2="144.20" y2="515.44" stroke="#A8A8A8" stroke-width="0.55"/>
<line x1="14.0" y1="522.76" x2="144.20" y2="522.76" stroke="#A8A8A8" stroke-width="0.55"/>
<line x1="14.0" y1="530.08" x2="144.20" y2="530.08" stroke="#A8A8A8" stroke-width="0.55"/>
<line x1="14.0" y1="537.40" x2="144.20" y2="537.40" stroke="#A8A8A8" stroke-width="0.55"/>
<line x1="14.0" y1="544.72" x2="144.20" y2="544.72" stroke="#A8A8A8" stroke-width="0.55"/>
<line x1="14.0" y1="552.04" x2="144.20" y2="552.04" stroke="#A8A8A8" stroke-width="0.55"/>
<line x1="14.0" y1="559.36" x2="144.20" y2="559.36" stroke="#A8A8A8" stroke-width="0.55"/>
<line x1="14.0" y1="566.68" x2="144.20" y2="566.68" stroke="#A8A8A8" stroke-width="0.55"/>
<line x1="14.0" y1="574.00" x2="144.20" y2="574.00" stroke="#A8A8A8" stroke-width="0.55"/>
<line x1="14.0" y1="581.32" x2="144.20" y2="581.32" stroke="#A8A8A8" stroke-width="0.55"/>
<rect x="147.30" y="464.20" width="21.70" height="7.32" fill="#E97566"/>
<rect x="169.00" y="464.20" width="21.70" height="7.32" fill="#F3AFA8"/>
<rect x="190.70" y="464.20" width="21.70" height="7.32" fill="#F8CECA"/>
<rect x="212.40" y="464.20" width="21.70" height="7.32" fill="#A8DCE8"/>
<rect x="234.10" y="464.20" width="21.70" height="7.32" fill="#A3DAE8"/>
<rect x="255.80" y="464.20" width="21.70" height="7.32" fill="#95D4E4"/>
<rect x="147.30" y="471.52" width="21.70" height="7.32" fill="#F3ACA5"/>
<rect x="169.00" y="471.52" width="21.70" height="7.32" fill="#F5FCFD"/>
<rect x="190.70" y="471.52" width="21.70" height="7.32" fill="#E65E4B"/>
<rect x="212.40" y="471.52" width="21.70" height="7.32" fill="#A6DBE8"/>
<rect x="234.10" y="471.52" width="21.70" height="7.32" fill="#9ED8E6"/>
<rect x="255.80" y="471.52" width="21.70" height="7.32" fill="#BDE5EE"/>
<rect x="147.30" y="478.84" width="21.70" height="7.32" fill="#F7C6C1"/>
<rect x="169.00" y="478.84" width="21.70" height="7.32" fill="#F3B0A9"/>
<rect x="190.70" y="478.84" width="21.70" height="7.32" fill="#EB7868"/>
<rect x="212.40" y="478.84" width="21.70" height="7.32" fill="#A0D9E7"/>
<rect x="234.10" y="478.84" width="21.70" height="7.32" fill="#A0D9E7"/>
<rect x="255.80" y="478.84" width="21.70" height="7.32" fill="#A6DBE8"/>
<rect x="147.30" y="486.16" width="21.70" height="7.32" fill="#F6BFBA"/>
<rect x="169.00" y="486.16" width="21.70" height="7.32" fill="#EA7566"/>
<rect x="190.70" y="486.16" width="21.70" height="7.32" fill="#F5B9B2"/>
<rect x="212.40" y="486.16" width="21.70" height="7.32" fill="#A0D9E7"/>
<rect x="234.10" y="486.16" width="21.70" height="7.32" fill="#A8DCE9"/>
<rect x="255.80" y="486.16" width="21.70" height="7.32" fill="#9DD7E6"/>
<rect x="147.30" y="493.48" width="21.70" height="7.32" fill="#F6C0BB"/>
<rect x="169.00" y="493.48" width="21.70" height="7.32" fill="#F0A098"/>
<rect x="190.70" y="493.48" width="21.70" height="7.32" fill="#EE897C"/>
<rect x="212.40" y="493.48" width="21.70" height="7.32" fill="#A0D9E7"/>
<rect x="234.10" y="493.48" width="21.70" height="7.32" fill="#A0D9E7"/>
<rect x="255.80" y="493.48" width="21.70" height="7.32" fill="#A3DAE8"/>
<rect x="147.30" y="500.80" width="21.70" height="7.32" fill="#EF8C80"/>
<rect x="169.00" y="500.80" width="21.70" height="7.32" fill="#F2A69E"/>
<rect x="190.70" y="500.80" width="21.70" height="7.32" fill="#F3B0A8"/>
<rect x="212.40" y="500.80" width="21.70" height="7.32" fill="#A3DAE8"/>
<rect x="234.10" y="500.80" width="21.70" height="7.32" fill="#A3DAE8"/>
<rect x="255.80" y="500.80" width="21.70" height="7.32" fill="#A0D9E7"/>
<rect x="147.30" y="508.12" width="21.70" height="7.32" fill="#F2A9A2"/>
<rect x="169.00" y="508.12" width="21.70" height="7.32" fill="#F0A097"/>
<rect x="190.70" y="508.12" width="21.70" height="7.32" fill="#F0A097"/>
<rect x="212.40" y="508.12" width="21.70" height="7.32" fill="#A3DAE8"/>
<rect x="234.10" y="508.12" width="21.70" height="7.32" fill="#9AD6E6"/>
<rect x="255.80" y="508.12" width="21.70" height="7.32" fill="#A6DBE8"/>
<rect x="147.30" y="515.44" width="21.70" height="7.32" fill="#F7C5C0"/>
<rect x="169.00" y="515.44" width="21.70" height="7.32" fill="#F1A49B"/>
<rect x="190.70" y="515.44" width="21.70" height="7.32" fill="#EE8274"/>
<rect x="212.40" y="515.44" width="21.70" height="7.32" fill="#9DD7E6"/>
<rect x="234.10" y="515.44" width="21.70" height="7.32" fill="#A3DAE8"/>
<rect x="255.80" y="515.44" width="21.70" height="7.32" fill="#A6DBE8"/>
<rect x="147.30" y="522.76" width="21.70" height="7.32" fill="#F8D2CD"/>
<rect x="169.00" y="522.76" width="21.70" height="7.32" fill="#FFFFFF"/>
<rect x="190.70" y="522.76" width="21.70" height="7.32" fill="#E44C36"/>
<rect x="212.40" y="522.76" width="21.70" height="7.32" fill="#A8DCE9"/>
<rect x="234.10" y="522.76" width="21.70" height="7.32" fill="#A3DAE8"/>
<rect x="255.80" y="522.76" width="21.70" height="7.32" fill="#BAE3EE"/>
<rect x="147.30" y="530.08" width="21.70" height="7.32" fill="#F8D1CC"/>
<rect x="169.00" y="530.08" width="21.70" height="7.32" fill="#FADDD9"/>
<rect x="190.70" y="530.08" width="21.70" height="7.32" fill="#E65A47"/>
<rect x="212.40" y="530.08" width="21.70" height="7.32" fill="#A3DAE8"/>
<rect x="234.10" y="530.08" width="21.70" height="7.32" fill="#A0D9E7"/>
<rect x="255.80" y="530.08" width="21.70" height="7.32" fill="#AADDE9"/>
<rect x="147.30" y="537.40" width="21.70" height="7.32" fill="#E96B5C"/>
<rect x="169.00" y="537.40" width="21.70" height="7.32" fill="#F3AFA8"/>
<rect x="190.70" y="537.40" width="21.70" height="7.32" fill="#FADAD6"/>
<rect x="212.40" y="537.40" width="21.70" height="7.32" fill="#A8DCE9"/>
<rect x="234.10" y="537.40" width="21.70" height="7.32" fill="#A6DBE8"/>
<rect x="255.80" y="537.40" width="21.70" height="7.32" fill="#A0D9E7"/>
<rect x="147.30" y="544.72" width="21.70" height="7.32" fill="#F2A69F"/>
<rect x="169.00" y="544.72" width="21.70" height="7.32" fill="#F09C93"/>
<rect x="190.70" y="544.72" width="21.70" height="7.32" fill="#F0A198"/>
<rect x="212.40" y="544.72" width="21.70" height="7.32" fill="#A3DAE8"/>
<rect x="234.10" y="544.72" width="21.70" height="7.32" fill="#A3DAE8"/>
<rect x="255.80" y="544.72" width="21.70" height="7.32" fill="#9DD7E6"/>
<rect x="147.30" y="552.04" width="21.70" height="7.32" fill="#EA7566"/>
<rect x="169.00" y="552.04" width="21.70" height="7.32" fill="#F3B0A9"/>
<rect x="190.70" y="552.04" width="21.70" height="7.32" fill="#F6C3BE"/>
<rect x="212.40" y="552.04" width="21.70" height="7.32" fill="#AADDE9"/>
<rect x="234.10" y="552.04" width="21.70" height="7.32" fill="#A6DBE8"/>
<rect x="255.80" y="552.04" width="21.70" height="7.32" fill="#A0D9E7"/>
<rect x="147.30" y="559.36" width="21.70" height="7.32" fill="#EF9084"/>
<rect x="169.00" y="559.36" width="21.70" height="7.32" fill="#F3ACA5"/>
<rect x="190.70" y="559.36" width="21.70" height="7.32" fill="#F1A59D"/>
<rect x="212.40" y="559.36" width="21.70" height="7.32" fill="#A0D9E7"/>
<rect x="234.10" y="559.36" width="21.70" height="7.32" fill="#A3DAE8"/>
<rect x="255.80" y="559.36" width="21.70" height="7.32" fill="#A0D9E7"/>
<rect x="147.30" y="566.68" width="21.70" height="7.32" fill="#F2A79F"/>
<rect x="169.00" y="566.68" width="21.70" height="7.32" fill="#F5BAB4"/>
<rect x="190.70" y="566.68" width="21.70" height="7.32" fill="#EE8679"/>
<rect x="212.40" y="566.68" width="21.70" height="7.32" fill="#A3DAE8"/>
<rect x="234.10" y="566.68" width="21.70" height="7.32" fill="#A6DBE8"/>
<rect x="255.80" y="566.68" width="21.70" height="7.32" fill="#9DD7E6"/>
<rect x="147.30" y="574.00" width="21.70" height="7.32" fill="#F3ADA6"/>
<rect x="169.00" y="574.00" width="21.70" height="7.32" fill="#EA7263"/>
<rect x="190.70" y="574.00" width="21.70" height="7.32" fill="#F9D8D4"/>
<rect x="212.40" y="574.00" width="21.70" height="7.32" fill="#A3DAE8"/>
<rect x="234.10" y="574.00" width="21.70" height="7.32" fill="#A6DBE8"/>
<rect x="255.80" y="574.00" width="21.70" height="7.32" fill="#9DD7E6"/>
<line x1="147.30" y1="464.2" x2="147.30" y2="581.32" stroke="#A8A8A8" stroke-width="0.55"/>
<line x1="169.00" y1="464.2" x2="169.00" y2="581.32" stroke="#A8A8A8" stroke-width="0.55"/>
<line x1="190.70" y1="464.2" x2="190.70" y2="581.32" stroke="#A8A8A8" stroke-width="0.55"/>
<line x1="212.40" y1="464.2" x2="212.40" y2="581.32" stroke="#A8A8A8" stroke-width="0.55"/>
<line x1="234.10" y1="464.2" x2="234.10" y2="581.32" stroke="#A8A8A8" stroke-width="0.55"/>
<line x1="255.80" y1="464.2" x2="255.80" y2="581.32" stroke="#A8A8A8" stroke-width="0.55"/>
<line x1="277.50" y1="464.2" x2="277.50" y2="581.32" stroke="#A8A8A8" stroke-width="0.55"/>
<line x1="147.3" y1="464.20" x2="277.50" y2="464.20" stroke="#A8A8A8" stroke-width="0.55"/>
<line x1="147.3" y1="471.52" x2="277.50" y2="471.52" stroke="#A8A8A8" stroke-width="0.55"/>
<line x1="147.3" y1="478.84" x2="277.50" y2="478.84" stroke="#A8A8A8" stroke-width="0.55"/>
<line x1="147.3" y1="486.16" x2="277.50" y2="486.16" stroke="#A8A8A8" stroke-width="0.55"/>
<line x1="147.3" y1="493.48" x2="277.50" y2="493.48" stroke="#A8A8A8" stroke-width="0.55"/>
<line x1="147.3" y1="500.80" x2="277.50" y2="500.80" stroke="#A8A8A8" stroke-width="0.55"/>
<line x1="147.3" y1="508.12" x2="277.50" y2="508.12" stroke="#A8A8A8" stroke-width="0.55"/>
<line x1="147.3" y1="515.44" x2="277.50" y2="515.44" stroke="#A8A8A8" stroke-width="0.55"/>
<line x1="147.3" y1="522.76" x2="277.50" y2="522.76" stroke="#A8A8A8" stroke-width="0.55"/>
<line x1="147.3" y1="530.08" x2="277.50" y2="530.08" stroke="#A8A8A8" stroke-width="0.55"/>
<line x1="147.3" y1="537.40" x2="277.50" y2="537.40" stroke="#A8A8A8" stroke-width="0.55"/>
<line x1="147.3" y1="544.72" x2="277.50" y2="544.72" stroke="#A8A8A8" stroke-width="0.55"/>
<line x1="147.3" y1="552.04" x2="277.50" y2="552.04" stroke="#A8A8A8" stroke-width="0.55"/>
<line x1="147.3" y1="559.36" x2="277.50" y2="559.36" stroke="#A8A8A8" stroke-width="0.55"/>
<line x1="147.3" y1="566.68" x2="277.50" y2="566.68" stroke="#A8A8A8" stroke-width="0.55"/>
<line x1="147.3" y1="574.00" x2="277.50" y2="574.00" stroke="#A8A8A8" stroke-width="0.55"/>
<line x1="147.3" y1="581.32" x2="277.50" y2="581.32" stroke="#A8A8A8" stroke-width="0.55"/>
<text x="282.00" y="469.80" font-size="6.85" text-anchor="start" fill="#111" >AJ</text>
<text x="282.00" y="477.23" font-size="6.85" text-anchor="start" fill="#111" >CS</text>
<text x="282.00" y="484.66" font-size="6.85" text-anchor="start" fill="#111" >CY</text>
<text x="282.00" y="492.09" font-size="6.85" text-anchor="start" fill="#111" >DA</text>
<text x="282.00" y="499.52" font-size="6.85" text-anchor="start" fill="#111" >HB</text>
<text x="282.00" y="506.95" font-size="6.85" text-anchor="start" fill="#111" >HS</text>
<text x="282.00" y="514.38" font-size="6.85" text-anchor="start" fill="#111" >HZP</text>
<text x="282.00" y="521.81" font-size="6.85" text-anchor="start" fill="#111" >JZ</text>
<text x="282.00" y="529.24" font-size="6.85" text-anchor="start" fill="#111" >LY</text>
<text x="282.00" y="536.67" font-size="6.85" text-anchor="start" fill="#111" >RH</text>
<text x="282.00" y="544.10" font-size="6.85" text-anchor="start" fill="#111" >WYS</text>
<text x="282.00" y="551.53" font-size="6.85" text-anchor="start" fill="#111" >XA</text>
<text x="282.00" y="558.96" font-size="6.85" text-anchor="start" fill="#111" >XN</text>
<text x="282.00" y="566.39" font-size="6.85" text-anchor="start" fill="#111" >YA</text>
<text x="282.00" y="573.82" font-size="6.85" text-anchor="start" fill="#111" >YF</text>
<text x="282.00" y="581.25" font-size="6.85" text-anchor="start" fill="#111" >YX</text>
<rect x="301.8" y="458.2" width="4.3" height="66.4" fill="url(#hbar)"/>
<text x="307.90" y="465.60" font-size="8" text-anchor="start" fill="#111" >1.5</text>
<text x="307.90" y="492.20" font-size="8" text-anchor="start" fill="#111" >0</text>
<text x="307.90" y="519.40" font-size="8" text-anchor="start" fill="#111" >−1.5</text>
<text x="47.60" y="591.20" font-size="8" text-anchor="middle" fill="#111" >Haplotype1</text>
<text x="112.50" y="591.20" font-size="8" text-anchor="middle" fill="#111" >Haplotype2</text>
<text x="181.50" y="591.20" font-size="8" text-anchor="middle" fill="#111" >Haplotype1</text>
<text x="246.50" y="591.20" font-size="8" text-anchor="middle" fill="#111" >Haplotype2</text>
<text x="80.70" y="603.80" font-size="9.2" text-anchor="middle" fill="#111" >Stem</text>
<text x="212.50" y="603.80" font-size="9.2" text-anchor="middle" fill="#111" >Rhizome</text>
<rect x="13.90" y="619.90" width="21.70" height="7.22" fill="#E65A47"/>
<rect x="35.60" y="619.90" width="21.70" height="7.22" fill="#F6C3BE"/>
<rect x="57.30" y="619.90" width="21.70" height="7.22" fill="#F3AAA2"/>
<rect x="79.00" y="619.90" width="21.70" height="7.22" fill="#A6DAE8"/>
<rect x="100.70" y="619.90" width="21.70" height="7.22" fill="#8CD0E2"/>
<rect x="122.40" y="619.90" width="21.70" height="7.22" fill="#8FD1E2"/>
<rect x="13.90" y="627.12" width="21.70" height="7.22" fill="#EF8E82"/>
<rect x="35.60" y="627.12" width="21.70" height="7.22" fill="#F1A39B"/>
<rect x="57.30" y="627.12" width="21.70" height="7.22" fill="#EE8C80"/>
<rect x="79.00" y="627.12" width="21.70" height="7.22" fill="#70C5DC"/>
<rect x="100.70" y="627.12" width="21.70" height="7.22" fill="#DFF2F7"/>
<rect x="122.40" y="627.12" width="21.70" height="7.22" fill="#72C6DC"/>
<rect x="13.90" y="634.35" width="21.70" height="7.22" fill="#F4B3AC"/>
<rect x="35.60" y="634.35" width="21.70" height="7.22" fill="#F2A59C"/>
<rect x="57.30" y="634.35" width="21.70" height="7.22" fill="#EA6E5E"/>
<rect x="79.00" y="634.35" width="21.70" height="7.22" fill="#86CDE0"/>
<rect x="100.70" y="634.35" width="21.70" height="7.22" fill="#8ED1E2"/>
<rect x="122.40" y="634.35" width="21.70" height="7.22" fill="#98D5E5"/>
<rect x="13.90" y="641.57" width="21.70" height="7.22" fill="#EF8D81"/>
<rect x="35.60" y="641.57" width="21.70" height="7.22" fill="#EF8F83"/>
<rect x="57.30" y="641.57" width="21.70" height="7.22" fill="#F2A59D"/>
<rect x="79.00" y="641.57" width="21.70" height="7.22" fill="#86CDE0"/>
<rect x="100.70" y="641.57" width="21.70" height="7.22" fill="#6CC4DB"/>
<rect x="122.40" y="641.57" width="21.70" height="7.22" fill="#D7EFF5"/>
<rect x="13.90" y="648.80" width="21.70" height="7.22" fill="#F6C1BC"/>
<rect x="35.60" y="648.80" width="21.70" height="7.22" fill="#E65A47"/>
<rect x="57.30" y="648.80" width="21.70" height="7.22" fill="#F2A59D"/>
<rect x="79.00" y="648.80" width="21.70" height="7.22" fill="#86CDE0"/>
<rect x="100.70" y="648.80" width="21.70" height="7.22" fill="#A6DAE8"/>
<rect x="122.40" y="648.80" width="21.70" height="7.22" fill="#93D3E3"/>
<rect x="13.90" y="656.02" width="21.70" height="7.22" fill="#EF8C80"/>
<rect x="35.60" y="656.02" width="21.70" height="7.22" fill="#EC8172"/>
<rect x="57.30" y="656.02" width="21.70" height="7.22" fill="#F3ABA3"/>
<rect x="79.00" y="656.02" width="21.70" height="7.22" fill="#98D5E5"/>
<rect x="100.70" y="656.02" width="21.70" height="7.22" fill="#93D3E3"/>
<rect x="122.40" y="656.02" width="21.70" height="7.22" fill="#80CBDF"/>
<rect x="13.90" y="663.25" width="21.70" height="7.22" fill="#EB7768"/>
<rect x="35.60" y="663.25" width="21.70" height="7.22" fill="#EC7E6F"/>
<rect x="57.30" y="663.25" width="21.70" height="7.22" fill="#F8CBC6"/>
<rect x="79.00" y="663.25" width="21.70" height="7.22" fill="#9DD7E6"/>
<rect x="100.70" y="663.25" width="21.70" height="7.22" fill="#90D2E3"/>
<rect x="122.40" y="663.25" width="21.70" height="7.22" fill="#8ACFE1"/>
<rect x="13.90" y="670.48" width="21.70" height="7.22" fill="#EF8C80"/>
<rect x="35.60" y="670.48" width="21.70" height="7.22" fill="#EC7B6C"/>
<rect x="57.30" y="670.48" width="21.70" height="7.22" fill="#F3ADA6"/>
<rect x="79.00" y="670.48" width="21.70" height="7.22" fill="#93D3E3"/>
<rect x="100.70" y="670.48" width="21.70" height="7.22" fill="#90D2E3"/>
<rect x="122.40" y="670.48" width="21.70" height="7.22" fill="#86CDE0"/>
<rect x="13.90" y="677.70" width="21.70" height="7.22" fill="#EF8D81"/>
<rect x="35.60" y="677.70" width="21.70" height="7.22" fill="#EF8D81"/>
<rect x="57.30" y="677.70" width="21.70" height="7.22" fill="#EF9084"/>
<rect x="79.00" y="677.70" width="21.70" height="7.22" fill="#93D3E3"/>
<rect x="100.70" y="677.70" width="21.70" height="7.22" fill="#8CD0E2"/>
<rect x="122.40" y="677.70" width="21.70" height="7.22" fill="#93D3E3"/>
<rect x="13.90" y="684.92" width="21.70" height="7.22" fill="#EF9084"/>
<rect x="35.60" y="684.92" width="21.70" height="7.22" fill="#EE8779"/>
<rect x="57.30" y="684.92" width="21.70" height="7.22" fill="#EF8B7F"/>
<rect x="79.00" y="684.92" width="21.70" height="7.22" fill="#86CDE0"/>
<rect x="100.70" y="684.92" width="21.70" height="7.22" fill="#8ED1E2"/>
<rect x="122.40" y="684.92" width="21.70" height="7.22" fill="#93D3E3"/>
<rect x="13.90" y="692.15" width="21.70" height="7.22" fill="#F2A59E"/>
<rect x="35.60" y="692.15" width="21.70" height="7.22" fill="#EC7B6C"/>
<rect x="57.30" y="692.15" width="21.70" height="7.22" fill="#EF8D81"/>
<rect x="79.00" y="692.15" width="21.70" height="7.22" fill="#A6DAE8"/>
<rect x="100.70" y="692.15" width="21.70" height="7.22" fill="#86CDE0"/>
<rect x="122.40" y="692.15" width="21.70" height="7.22" fill="#86CDE0"/>
<rect x="13.90" y="699.38" width="21.70" height="7.22" fill="#EA6D5E"/>
<rect x="35.60" y="699.38" width="21.70" height="7.22" fill="#F2A59E"/>
<rect x="57.30" y="699.38" width="21.70" height="7.22" fill="#F2A69F"/>
<rect x="79.00" y="699.38" width="21.70" height="7.22" fill="#9DD7E6"/>
<rect x="100.70" y="699.38" width="21.70" height="7.22" fill="#86CDE0"/>
<rect x="122.40" y="699.38" width="21.70" height="7.22" fill="#8ED1E2"/>
<rect x="13.90" y="706.60" width="21.70" height="7.22" fill="#FBE9E7"/>
<rect x="35.60" y="706.60" width="21.70" height="7.22" fill="#F2A49C"/>
<rect x="57.30" y="706.60" width="21.70" height="7.22" fill="#E64E3A"/>
<rect x="79.00" y="706.60" width="21.70" height="7.22" fill="#93D3E3"/>
<rect x="100.70" y="706.60" width="21.70" height="7.22" fill="#8ACFE1"/>
<rect x="122.40" y="706.60" width="21.70" height="7.22" fill="#BAE3EE"/>
<rect x="13.90" y="713.82" width="21.70" height="7.22" fill="#E64E3A"/>
<rect x="35.60" y="713.82" width="21.70" height="7.22" fill="#F0998E"/>
<rect x="57.30" y="713.82" width="21.70" height="7.22" fill="#FCEDEB"/>
<rect x="79.00" y="713.82" width="21.70" height="7.22" fill="#B3E0EC"/>
<rect x="100.70" y="713.82" width="21.70" height="7.22" fill="#A3D9E8"/>
<rect x="122.40" y="713.82" width="21.70" height="7.22" fill="#78C8DD"/>
<rect x="13.90" y="721.05" width="21.70" height="7.22" fill="#F5BAB4"/>
<rect x="35.60" y="721.05" width="21.70" height="7.22" fill="#F0998E"/>
<rect x="57.30" y="721.05" width="21.70" height="7.22" fill="#EA6C5C"/>
<rect x="79.00" y="721.05" width="21.70" height="7.22" fill="#98D5E5"/>
<rect x="100.70" y="721.05" width="21.70" height="7.22" fill="#78C8DD"/>
<rect x="122.40" y="721.05" width="21.70" height="7.22" fill="#A9DCEA"/>
<rect x="13.90" y="728.27" width="21.70" height="7.22" fill="#F3ACA5"/>
<rect x="35.60" y="728.27" width="21.70" height="7.22" fill="#FDF3F1"/>
<rect x="57.30" y="728.27" width="21.70" height="7.22" fill="#E64A35"/>
<rect x="79.00" y="728.27" width="21.70" height="7.22" fill="#93D3E3"/>
<rect x="100.70" y="728.27" width="21.70" height="7.22" fill="#78C8DD"/>
<rect x="122.40" y="728.27" width="21.70" height="7.22" fill="#E3F4F8"/>
<line x1="13.90" y1="619.9" x2="13.90" y2="735.50" stroke="#A8A8A8" stroke-width="0.55"/>
<line x1="35.60" y1="619.9" x2="35.60" y2="735.50" stroke="#A8A8A8" stroke-width="0.55"/>
<line x1="57.30" y1="619.9" x2="57.30" y2="735.50" stroke="#A8A8A8" stroke-width="0.55"/>
<line x1="79.00" y1="619.9" x2="79.00" y2="735.50" stroke="#A8A8A8" stroke-width="0.55"/>
<line x1="100.70" y1="619.9" x2="100.70" y2="735.50" stroke="#A8A8A8" stroke-width="0.55"/>
<line x1="122.40" y1="619.9" x2="122.40" y2="735.50" stroke="#A8A8A8" stroke-width="0.55"/>
<line x1="144.10" y1="619.9" x2="144.10" y2="735.50" stroke="#A8A8A8" stroke-width="0.55"/>
<line x1="13.9" y1="619.90" x2="144.10" y2="619.90" stroke="#A8A8A8" stroke-width="0.55"/>
<line x1="13.9" y1="627.12" x2="144.10" y2="627.12" stroke="#A8A8A8" stroke-width="0.55"/>
<line x1="13.9" y1="634.35" x2="144.10" y2="634.35" stroke="#A8A8A8" stroke-width="0.55"/>
<line x1="13.9" y1="641.57" x2="144.10" y2="641.57" stroke="#A8A8A8" stroke-width="0.55"/>
<line x1="13.9" y1="648.80" x2="144.10" y2="648.80" stroke="#A8A8A8" stroke-width="0.55"/>
<line x1="13.9" y1="656.02" x2="144.10" y2="656.02" stroke="#A8A8A8" stroke-width="0.55"/>
<line x1="13.9" y1="663.25" x2="144.10" y2="663.25" stroke="#A8A8A8" stroke-width="0.55"/>
<line x1="13.9" y1="670.48" x2="144.10" y2="670.48" stroke="#A8A8A8" stroke-width="0.55"/>
<line x1="13.9" y1="677.70" x2="144.10" y2="677.70" stroke="#A8A8A8" stroke-width="0.55"/>
<line x1="13.9" y1="684.92" x2="144.10" y2="684.92" stroke="#A8A8A8" stroke-width="0.55"/>
<line x1="13.9" y1="692.15" x2="144.10" y2="692.15" stroke="#A8A8A8" stroke-width="0.55"/>
<line x1="13.9" y1="699.38" x2="144.10" y2="699.38" stroke="#A8A8A8" stroke-width="0.55"/>
<line x1="13.9" y1="706.60" x2="144.10" y2="706.60" stroke="#A8A8A8" stroke-width="0.55"/>
<line x1="13.9" y1="713.82" x2="144.10" y2="713.82" stroke="#A8A8A8" stroke-width="0.55"/>
<line x1="13.9" y1="721.05" x2="144.10" y2="721.05" stroke="#A8A8A8" stroke-width="0.55"/>
<line x1="13.9" y1="728.27" x2="144.10" y2="728.27" stroke="#A8A8A8" stroke-width="0.55"/>
<line x1="13.9" y1="735.50" x2="144.10" y2="735.50" stroke="#A8A8A8" stroke-width="0.55"/>
<rect x="147.20" y="619.90" width="21.70" height="7.22" fill="#9DD7E6"/>
<rect x="168.90" y="619.90" width="21.70" height="7.22" fill="#98D5E5"/>
<rect x="190.60" y="619.90" width="21.70" height="7.22" fill="#D2EEF4"/>
<rect x="212.30" y="619.90" width="21.70" height="7.22" fill="#F09C92"/>
<rect x="234.00" y="619.90" width="21.70" height="7.22" fill="#F09C92"/>
<rect x="255.70" y="619.90" width="21.70" height="7.22" fill="#F8D5D1"/>
<rect x="147.20" y="627.12" width="21.70" height="7.22" fill="#98D5E5"/>
<rect x="168.90" y="627.12" width="21.70" height="7.22" fill="#FFFFFF"/>
<rect x="190.60" y="627.12" width="21.70" height="7.22" fill="#B8E2ED"/>
<rect x="212.30" y="627.12" width="21.70" height="7.22" fill="#CFECF3"/>
<rect x="234.00" y="627.12" width="21.70" height="7.22" fill="#EA7263"/>
<rect x="255.70" y="627.12" width="21.70" height="7.22" fill="#F2A69E"/>
<rect x="147.20" y="634.35" width="21.70" height="7.22" fill="#F8FCFD"/>
<rect x="168.90" y="634.35" width="21.70" height="7.22" fill="#B3E0EC"/>
<rect x="190.60" y="634.35" width="21.70" height="7.22" fill="#78C8DD"/>
<rect x="212.30" y="634.35" width="21.70" height="7.22" fill="#EC7F70"/>
<rect x="234.00" y="634.35" width="21.70" height="7.22" fill="#FEF6F5"/>
<rect x="255.70" y="634.35" width="21.70" height="7.22" fill="#F2A69E"/>
<rect x="147.20" y="641.57" width="21.70" height="7.22" fill="#B8E2ED"/>
<rect x="168.90" y="641.57" width="21.70" height="7.22" fill="#A3D9E8"/>
<rect x="190.60" y="641.57" width="21.70" height="7.22" fill="#A6DAE8"/>
<rect x="212.30" y="641.57" width="21.70" height="7.22" fill="#EB7868"/>
<rect x="234.00" y="641.57" width="21.70" height="7.22" fill="#F6C4BF"/>
<rect x="255.70" y="641.57" width="21.70" height="7.22" fill="#F6C8C3"/>
<rect x="147.20" y="648.80" width="21.70" height="7.22" fill="#A6DAE8"/>
<rect x="168.90" y="648.80" width="21.70" height="7.22" fill="#B3E0EC"/>
<rect x="190.60" y="648.80" width="21.70" height="7.22" fill="#B8E2ED"/>
<rect x="212.30" y="648.80" width="21.70" height="7.22" fill="#E65A47"/>
<rect x="234.00" y="648.80" width="21.70" height="7.22" fill="#F8D5D1"/>
<rect x="255.70" y="648.80" width="21.70" height="7.22" fill="#FCE7E5"/>
<rect x="147.20" y="656.02" width="21.70" height="7.22" fill="#80CBDF"/>
<rect x="168.90" y="656.02" width="21.70" height="7.22" fill="#B3E0EC"/>
<rect x="190.60" y="656.02" width="21.70" height="7.22" fill="#E0F3F7"/>
<rect x="212.30" y="656.02" width="21.70" height="7.22" fill="#EC7D6E"/>
<rect x="234.00" y="656.02" width="21.70" height="7.22" fill="#FBE0DD"/>
<rect x="255.70" y="656.02" width="21.70" height="7.22" fill="#F4B3AC"/>
<rect x="147.20" y="663.25" width="21.70" height="7.22" fill="#A6DAE8"/>
<rect x="168.90" y="663.25" width="21.70" height="7.22" fill="#E65A47"/>
<rect x="190.60" y="663.25" width="21.70" height="7.22" fill="#B8E2ED"/>
<rect x="212.30" y="663.25" width="21.70" height="7.22" fill="#E0F3F7"/>
<rect x="234.00" y="663.25" width="21.70" height="7.22" fill="#F8CDC8"/>
<rect x="255.70" y="663.25" width="21.70" height="7.22" fill="#E0F3F7"/>
<rect x="147.20" y="670.48" width="21.70" height="7.22" fill="#DCF1F6"/>
<rect x="168.90" y="670.48" width="21.70" height="7.22" fill="#A3D9E8"/>
<rect x="190.60" y="670.48" width="21.70" height="7.22" fill="#8ED1E2"/>
<rect x="212.30" y="670.48" width="21.70" height="7.22" fill="#F3AAA2"/>
<rect x="234.00" y="670.48" width="21.70" height="7.22" fill="#F4B3AC"/>
<rect x="255.70" y="670.48" width="21.70" height="7.22" fill="#F2A29A"/>
<rect x="147.20" y="677.70" width="21.70" height="7.22" fill="#A3D9E8"/>
<rect x="168.90" y="677.70" width="21.70" height="7.22" fill="#86CDE0"/>
<rect x="190.60" y="677.70" width="21.70" height="7.22" fill="#EC7D6E"/>
<rect x="212.30" y="677.70" width="21.70" height="7.22" fill="#FFFDFC"/>
<rect x="234.00" y="677.70" width="21.70" height="7.22" fill="#FBE3E0"/>
<rect x="255.70" y="677.70" width="21.70" height="7.22" fill="#F6C8C3"/>
<rect x="147.20" y="684.92" width="21.70" height="7.22" fill="#EA6B5B"/>
<rect x="168.90" y="684.92" width="21.70" height="7.22" fill="#FCEBE9"/>
<rect x="190.60" y="684.92" width="21.70" height="7.22" fill="#80CBDF"/>
<rect x="212.30" y="684.92" width="21.70" height="7.22" fill="#E8F5F9"/>
<rect x="234.00" y="684.92" width="21.70" height="7.22" fill="#CDEBF2"/>
<rect x="255.70" y="684.92" width="21.70" height="7.22" fill="#FDE4E2"/>
<rect x="147.20" y="692.15" width="21.70" height="7.22" fill="#EA6E5E"/>
<rect x="168.90" y="692.15" width="21.70" height="7.22" fill="#FCEEEC"/>
<rect x="190.60" y="692.15" width="21.70" height="7.22" fill="#D9F0F5"/>
<rect x="212.30" y="692.15" width="21.70" height="7.22" fill="#F6C4BF"/>
<rect x="234.00" y="692.15" width="21.70" height="7.22" fill="#BEE5EF"/>
<rect x="255.70" y="692.15" width="21.70" height="7.22" fill="#8ED1E2"/>
<rect x="147.20" y="699.38" width="21.70" height="7.22" fill="#A6DAE8"/>
<rect x="168.90" y="699.38" width="21.70" height="7.22" fill="#E85E4B"/>
<rect x="190.60" y="699.38" width="21.70" height="7.22" fill="#F8D5D1"/>
<rect x="212.30" y="699.38" width="21.70" height="7.22" fill="#A6DAE8"/>
<rect x="234.00" y="699.38" width="21.70" height="7.22" fill="#E0F3F7"/>
<rect x="255.70" y="699.38" width="21.70" height="7.22" fill="#FAFDFE"/>
<rect x="147.20" y="706.60" width="21.70" height="7.22" fill="#A6DAE8"/>
<rect x="168.90" y="706.60" width="21.70" height="7.22" fill="#A6DAE8"/>
<rect x="190.60" y="706.60" width="21.70" height="7.22" fill="#C7E9F1"/>
<rect x="212.30" y="706.60" width="21.70" height="7.22" fill="#E96A5A"/>
<rect x="234.00" y="706.60" width="21.70" height="7.22" fill="#F6C4BF"/>
<rect x="255.70" y="706.60" width="21.70" height="7.22" fill="#FBDDDA"/>
<rect x="147.20" y="713.82" width="21.70" height="7.22" fill="#EEF8FA"/>
<rect x="168.90" y="713.82" width="21.70" height="7.22" fill="#F5FBFC"/>
<rect x="190.60" y="713.82" width="21.70" height="7.22" fill="#59BED7"/>
<rect x="212.30" y="713.82" width="21.70" height="7.22" fill="#FCE8E6"/>
<rect x="234.00" y="713.82" width="21.70" height="7.22" fill="#F09C92"/>
<rect x="255.70" y="713.82" width="21.70" height="7.22" fill="#F4B3AC"/>
<rect x="147.20" y="721.05" width="21.70" height="7.22" fill="#FBE1DE"/>
<rect x="168.90" y="721.05" width="21.70" height="7.22" fill="#FBE1DE"/>
<rect x="190.60" y="721.05" width="21.70" height="7.22" fill="#7ECADE"/>
<rect x="212.30" y="721.05" width="21.70" height="7.22" fill="#EC7D6E"/>
<rect x="234.00" y="721.05" width="21.70" height="7.22" fill="#F8D5D1"/>
<rect x="255.70" y="721.05" width="21.70" height="7.22" fill="#98D5E5"/>
<rect x="147.20" y="728.27" width="21.70" height="7.22" fill="#E64A35"/>
<rect x="168.90" y="728.27" width="21.70" height="7.22" fill="#EEF8FA"/>
<rect x="190.60" y="728.27" width="21.70" height="7.22" fill="#F0F9FB"/>
<rect x="212.30" y="728.27" width="21.70" height="7.22" fill="#F4FAFC"/>
<rect x="234.00" y="728.27" width="21.70" height="7.22" fill="#C5E8F0"/>
<rect x="255.70" y="728.27" width="21.70" height="7.22" fill="#ACDDEA"/>
<line x1="147.20" y1="619.9" x2="147.20" y2="735.50" stroke="#A8A8A8" stroke-width="0.55"/>
<line x1="168.90" y1="619.9" x2="168.90" y2="735.50" stroke="#A8A8A8" stroke-width="0.55"/>
<line x1="190.60" y1="619.9" x2="190.60" y2="735.50" stroke="#A8A8A8" stroke-width="0.55"/>
<line x1="212.30" y1="619.9" x2="212.30" y2="735.50" stroke="#A8A8A8" stroke-width="0.55"/>
<line x1="234.00" y1="619.9" x2="234.00" y2="735.50" stroke="#A8A8A8" stroke-width="0.55"/>
<line x1="255.70" y1="619.9" x2="255.70" y2="735.50" stroke="#A8A8A8" stroke-width="0.55"/>
<line x1="277.40" y1="619.9" x2="277.40" y2="735.50" stroke="#A8A8A8" stroke-width="0.55"/>
<line x1="147.2" y1="619.90" x2="277.40" y2="619.90" stroke="#A8A8A8" stroke-width="0.55"/>
<line x1="147.2" y1="627.12" x2="277.40" y2="627.12" stroke="#A8A8A8" stroke-width="0.55"/>
<line x1="147.2" y1="634.35" x2="277.40" y2="634.35" stroke="#A8A8A8" stroke-width="0.55"/>
<line x1="147.2" y1="641.57" x2="277.40" y2="641.57" stroke="#A8A8A8" stroke-width="0.55"/>
<line x1="147.2" y1="648.80" x2="277.40" y2="648.80" stroke="#A8A8A8" stroke-width="0.55"/>
<line x1="147.2" y1="656.02" x2="277.40" y2="656.02" stroke="#A8A8A8" stroke-width="0.55"/>
<line x1="147.2" y1="663.25" x2="277.40" y2="663.25" stroke="#A8A8A8" stroke-width="0.55"/>
<line x1="147.2" y1="670.48" x2="277.40" y2="670.48" stroke="#A8A8A8" stroke-width="0.55"/>
<line x1="147.2" y1="677.70" x2="277.40" y2="677.70" stroke="#A8A8A8" stroke-width="0.55"/>
<line x1="147.2" y1="684.92" x2="277.40" y2="684.92" stroke="#A8A8A8" stroke-width="0.55"/>
<line x1="147.2" y1="692.15" x2="277.40" y2="692.15" stroke="#A8A8A8" stroke-width="0.55"/>
<line x1="147.2" y1="699.38" x2="277.40" y2="699.38" stroke="#A8A8A8" stroke-width="0.55"/>
<line x1="147.2" y1="706.60" x2="277.40" y2="706.60" stroke="#A8A8A8" stroke-width="0.55"/>
<line x1="147.2" y1="713.82" x2="277.40" y2="713.82" stroke="#A8A8A8" stroke-width="0.55"/>
<line x1="147.2" y1="721.05" x2="277.40" y2="721.05" stroke="#A8A8A8" stroke-width="0.55"/>
<line x1="147.2" y1="728.27" x2="277.40" y2="728.27" stroke="#A8A8A8" stroke-width="0.55"/>
<line x1="147.2" y1="735.50" x2="277.40" y2="735.50" stroke="#A8A8A8" stroke-width="0.55"/>
<text x="281.60" y="628.25" font-size="6.85" text-anchor="start" fill="#111" >AJ</text>
<text x="281.60" y="635.42" font-size="6.85" text-anchor="start" fill="#111" >CY</text>
<text x="281.60" y="642.59" font-size="6.85" text-anchor="start" fill="#111" >RH</text>
<text x="281.60" y="649.76" font-size="6.85" text-anchor="start" fill="#111" >XA</text>
<text x="281.60" y="656.93" font-size="6.85" text-anchor="start" fill="#111" >XN</text>
<text x="281.60" y="664.10" font-size="6.85" text-anchor="start" fill="#111" >HZP</text>
<text x="281.60" y="671.27" font-size="6.85" text-anchor="start" fill="#111" >LY</text>
<text x="281.60" y="678.44" font-size="6.85" text-anchor="start" fill="#111" >YF</text>
<text x="281.60" y="685.61" font-size="6.85" text-anchor="start" fill="#111" >WYS</text>
<text x="281.60" y="692.78" font-size="6.85" text-anchor="start" fill="#111" >CS</text>
<text x="281.60" y="699.95" font-size="6.85" text-anchor="start" fill="#111" >DA</text>
<text x="281.60" y="707.12" font-size="6.85" text-anchor="start" fill="#111" >YA</text>
<text x="281.60" y="714.29" font-size="6.85" text-anchor="start" fill="#111" >YX</text>
<text x="281.60" y="721.46" font-size="6.85" text-anchor="start" fill="#111" >HS</text>
<text x="281.60" y="728.63" font-size="6.85" text-anchor="start" fill="#111" >JZ</text>
<text x="281.60" y="735.80" font-size="6.85" text-anchor="start" fill="#111" >HB</text>
<rect x="301.9" y="622.3" width="4" height="64.5" fill="url(#hbar)"/>
<text x="308.20" y="628.60" font-size="8" text-anchor="start" fill="#111" >1.5</text>
<text x="308.20" y="656.00" font-size="8" text-anchor="start" fill="#111" >0</text>
<text x="308.20" y="683.70" font-size="8" text-anchor="start" fill="#111" >−1.5</text>
<text x="43.80" y="745.00" font-size="8" text-anchor="middle" fill="#111" >Haplotype1</text>
<text x="109.00" y="745.00" font-size="8" text-anchor="middle" fill="#111" >Haplotype2</text>
<text x="179.50" y="745.00" font-size="8" text-anchor="middle" fill="#111" >Haplotype1</text>
<text x="244.50" y="745.00" font-size="8" text-anchor="middle" fill="#111" >Haplotype2</text>
<text x="75.70" y="757.00" font-size="9.6" text-anchor="middle" fill="#111" >Leaf</text>
<text x="210.50" y="757.00" font-size="9.6" text-anchor="middle" fill="#111" >Rhizome</text>
<rect x="526.4" y="466.2" width="12.9" height="5.2" rx="2.6" fill="#4DBBD5"/>
<text x="542.30" y="471.70" font-size="8" text-anchor="start" fill="#111" >CDS</text>
<rect x="570.4" y="466.2" width="12.9" height="5.2" rx="2.6" fill="#E64B35"/>
<text x="586.30" y="471.70" font-size="8" text-anchor="start" fill="#111" >UTR</text>
<line x1="616.1999999999999" y1="468.8" x2="626.6999999999999" y2="468.8" stroke="#777" stroke-width="0.9"/>
<text x="629.70" y="471.70" font-size="8" text-anchor="start" fill="#111" >Intron</text>
<text x="489.00" y="485.60" font-size="10.2" text-anchor="start" fill="#111" >GS0010347</text>
<text x="348.40" y="499.60" font-size="10.25" text-anchor="start" fill="#111" >Haplotype 1</text>
<text x="349.90" y="571.30" font-size="10.25" text-anchor="start" fill="#111" >Haplotype 2</text>
<line x1="361" y1="508" x2="668" y2="508" stroke="#222" stroke-width="1.4"/>
<path d="M678,508 L663,501.4 L666.4,508 L663,514.6 Z" fill="#000"/>
<rect x="426.4" y="493.3" width="233.2" height="27.9" fill="none" stroke="#3DB5A6" stroke-width="0.9"/>
<rect x="427" y="503" width="86" height="8" fill="#E64B35"/>
<rect x="512.30" y="502.80" width="8.30" height="8.40" rx="1.6" fill="#4DBBD5"/>
<rect x="531.80" y="503.80" width="4.50" height="6.80" rx="1.6" fill="#4DBBD5"/>
<rect x="634.80" y="502.55" width="3.30" height="8.10" rx="1.6" fill="#4DBBD5"/>
<rect x="640.10" y="502.55" width="7.10" height="8.30" rx="1.6" fill="#4DBBD5"/>
<rect x="649.30" y="502.65" width="7.00" height="8.30" rx="1.6" fill="#4DBBD5"/>
<rect x="656.1" y="502.8" width="3.1" height="8.2" fill="#E64B35"/>
<path d="M389.9,508.2 L516.9,571.5" stroke="#222" stroke-width="0.8" stroke-dasharray="2.2,1.6" fill="none"/>
<path d="M516.5,511.5 L516.5,571.5" stroke="#222" stroke-width="0.8" stroke-dasharray="2.2,1.6" fill="none"/>
<path d="M443.9,532.1 L450.6,532.1 M509.2,532.1 L516.5,532.1" stroke="#222" stroke-width="0.75" stroke-dasharray="1.6,1.2" fill="none"/>
<rect x="450.9" y="527" width="58" height="10" fill="#fff"/>
<text x="479.90" y="535.10" font-size="8.8" text-anchor="middle" fill="#111" >DEL (6398 bp)</text>
<line x1="419" y1="576.3" x2="668" y2="576.3" stroke="#222" stroke-width="1.4"/>
<path d="M677.7,576.3 L662.7,569.6999999999999 L666.1,576.3 L662.7,582.9 Z" fill="#000"/>
<rect x="508.6" y="562.2" width="150.7" height="28.8" fill="none" stroke="#3DB5A6" stroke-width="0.9"/>
<rect x="509.50" y="571.55" width="11.60" height="9.50" rx="1.6" fill="#4DBBD5"/>
<rect x="532.40" y="572.70" width="4.30" height="7.00" rx="1.6" fill="#4DBBD5"/>
<rect x="634.90" y="571.75" width="3.40" height="8.10" rx="1.6" fill="#4DBBD5"/>
<rect x="640.30" y="571.65" width="7.20" height="8.30" rx="1.6" fill="#4DBBD5"/>
<rect x="649.30" y="571.65" width="7.20" height="8.30" rx="1.6" fill="#4DBBD5"/>
<rect x="656.4" y="571.7" width="3" height="8.2" fill="#E64B35"/>
<rect x="530.4" y="619.1999999999999" width="12.9" height="5.2" rx="2.6" fill="#4DBBD5"/>
<text x="546.30" y="624.70" font-size="8" text-anchor="start" fill="#111" >CDS</text>
<rect x="574.4" y="619.1999999999999" width="12.9" height="5.2" rx="2.6" fill="#E64B35"/>
<text x="590.30" y="624.70" font-size="8" text-anchor="start" fill="#111" >UTR</text>
<line x1="620.1999999999999" y1="621.8" x2="630.6999999999999" y2="621.8" stroke="#333" stroke-width="0.9"/>
<text x="633.70" y="624.70" font-size="8" text-anchor="start" fill="#111" >Intron</text>
<text x="515.60" y="641.00" font-size="10.2" text-anchor="start" fill="#111" >GS0027844</text>
<text x="355.50" y="660.60" font-size="10.25" text-anchor="start" fill="#111" >Haplotype 1</text>
<text x="355.40" y="752.80" font-size="10.25" text-anchor="start" fill="#111" >Haplotype 2</text>
<line x1="417.5" y1="661.5" x2="668" y2="661.5" stroke="#111" stroke-width="1.4"/>
<path d="M676.5,661.5 L661.5,654.9 L664.9,661.5 L661.5,668.1 Z" fill="#000"/>
<rect x="424.6" y="647.4" width="235.3" height="26.7" fill="none" stroke="#3DB5A6" stroke-width="0.9"/>
<rect x="425.3" y="656.6" width="119" height="9.6" fill="#E64B35"/>
<rect x="597.2" y="656.6" width="62.2" height="9.6" fill="#E64B35"/>
<rect x="545.0" y="656.8" width="0.9" height="9.4" fill="#4DBBD5"/>
<rect x="546.6" y="656.8" width="1.0" height="9.4" fill="#4DBBD5"/>
<rect x="550.4" y="656.8" width="1.5" height="9.4" fill="#4DBBD5"/>
<rect x="554.6" y="656.8" width="2.0" height="9.4" fill="#4DBBD5"/>
<rect x="558.2" y="656.8" width="0.9" height="9.4" fill="#4DBBD5"/>
<line x1="418.7" y1="744.8" x2="590" y2="744.8" stroke="#111" stroke-width="1.4"/>
<path d="M600.7,744.8 L585.7,738.1999999999999 L589.1,744.8 L585.7,751.4 Z" fill="#000"/>
<rect x="425.1" y="731.7" width="138.3" height="28" fill="none" stroke="#3DB5A6" stroke-width="0.9"/>
<rect x="425.6" y="741.4" width="120.8" height="7.6" fill="#E64B35"/>
<rect x="547.9" y="740.6" width="1.0" height="9.2" rx="0.4" fill="#4DBBD5"/>
<rect x="551.8" y="740.6" width="1.5" height="9.2" rx="0.4" fill="#4DBBD5"/>
<rect x="555.5" y="740.6" width="2.0" height="9.2" rx="0.4" fill="#4DBBD5"/>
<rect x="560.0" y="740.6" width="0.8" height="9.2" rx="0.4" fill="#4DBBD5"/>
<rect x="560.9" y="740.8" width="2.2" height="8.8" fill="#E64B35"/>
<path d="M371.7,687.3 L371.7,684.6 L555.2,668.2" stroke="#CFCFCF" stroke-width="0.45" fill="none"/>
<path d="M371.7,712.6 L371.7,715.2 L557.5,736.5" stroke="#CFCFCF" stroke-width="0.45" fill="none"/>
<path d="M414.5,687.3 L414.5,684.6 L555.2,668.2" stroke="#CFCFCF" stroke-width="0.45" fill="none"/>
<path d="M414.5,712.6 L414.5,715.2 L557.5,736.5" stroke="#CFCFCF" stroke-width="0.45" fill="none"/>
<path d="M491.0,687.3 L491.0,684.6 L555.2,668.2" stroke="#CFCFCF" stroke-width="0.45" fill="none"/>
<path d="M491.0,712.6 L491.0,715.2 L557.5,736.5" stroke="#CFCFCF" stroke-width="0.45" fill="none"/>
<path d="M560.4,687.3 L560.4,684.6 L555.2,668.2" stroke="#CFCFCF" stroke-width="0.45" fill="none"/>
<path d="M560.4,712.6 L560.4,715.2 L557.5,736.5" stroke="#CFCFCF" stroke-width="0.45" fill="none"/>
<path d="M611.9,687.3 L611.9,684.6 L555.2,668.2" stroke="#CFCFCF" stroke-width="0.45" fill="none"/>
<path d="M611.9,712.6 L611.9,715.2 L557.5,736.5" stroke="#CFCFCF" stroke-width="0.45" fill="none"/>
<path d="M662.2,687.3 L662.2,684.6 L555.2,668.2" stroke="#CFCFCF" stroke-width="0.45" fill="none"/>
<path d="M662.2,712.6 L662.2,715.2 L557.5,736.5" stroke="#CFCFCF" stroke-width="0.45" fill="none"/>
<path d="M345.2,687.3 L544.5,667" stroke="#CFCFCF" stroke-width="0.45" fill="none"/>
<path d="M674.6,687.3 L558.5,667" stroke="#CFCFCF" stroke-width="0.45" fill="none"/>
<path d="M345.2,712.6 L546.4,736.5 L546.4,741" stroke="#CFCFCF" stroke-width="0.45" fill="none"/>
<path d="M674.6,712.6 L560.5,736.5" stroke="#CFCFCF" stroke-width="0.45" fill="none"/>
<rect x="345.2" y="687.3" width="53.00" height="25.3" fill="#fff" stroke="#555" stroke-width="0.75"/>
<rect x="406.5" y="687.3" width="15.90" height="25.3" fill="#fff" stroke="#555" stroke-width="0.75"/>
<rect x="431.2" y="687.3" width="106.90" height="25.3" fill="#fff" stroke="#555" stroke-width="0.75"/>
<rect x="546.4" y="687.3" width="26.00" height="25.3" fill="#fff" stroke="#555" stroke-width="0.75"/>
<rect x="581.6" y="687.3" width="60.60" height="25.3" fill="#fff" stroke="#555" stroke-width="0.75"/>
<rect x="650.3" y="687.3" width="24.30" height="25.3" fill="#fff" stroke="#555" stroke-width="0.75"/>
<rect x="400.10" y="698.9" width="1.2" height="1.5" fill="#555"/>
<rect x="401.60" y="698.9" width="1.2" height="1.5" fill="#555"/>
<rect x="403.10" y="698.9" width="1.2" height="1.5" fill="#555"/>
<rect x="424.60" y="698.9" width="1.2" height="1.5" fill="#555"/>
<rect x="426.10" y="698.9" width="1.2" height="1.5" fill="#555"/>
<rect x="427.60" y="698.9" width="1.2" height="1.5" fill="#555"/>
<rect x="540.00" y="698.9" width="1.2" height="1.5" fill="#555"/>
<rect x="541.50" y="698.9" width="1.2" height="1.5" fill="#555"/>
<rect x="543.00" y="698.9" width="1.2" height="1.5" fill="#555"/>
<rect x="574.80" y="698.9" width="1.2" height="1.5" fill="#555"/>
<rect x="576.30" y="698.9" width="1.2" height="1.5" fill="#555"/>
<rect x="577.80" y="698.9" width="1.2" height="1.5" fill="#555"/>
<rect x="644.10" y="698.9" width="1.2" height="1.5" fill="#555"/>
<rect x="645.60" y="698.9" width="1.2" height="1.5" fill="#555"/>
<rect x="647.10" y="698.9" width="1.2" height="1.5" fill="#555"/>
<text x="349.08" y="693.9" font-size="5.5" text-anchor="middle" fill="#111">A</text>
<text x="353.25" y="693.9" font-size="5.5" text-anchor="middle" fill="#111">A</text>
<text x="357.42" y="693.9" font-size="5.5" text-anchor="middle" fill="#F2302A">G</text>
<text x="361.58" y="693.9" font-size="5.5" text-anchor="middle" fill="#F2302A">A</text>
<text x="365.75" y="693.9" font-size="5.5" text-anchor="middle" fill="#F2302A">G</text>
<text x="369.92" y="693.9" font-size="5.5" text-anchor="middle" fill="#F2302A">C</text>
<text x="374.08" y="693.9" font-size="5.5" text-anchor="middle" fill="#F2302A">G</text>
<text x="378.25" y="693.9" font-size="5.5" text-anchor="middle" fill="#111">G</text>
<text x="382.42" y="693.9" font-size="5.5" text-anchor="middle" fill="#111">C</text>
<text x="386.58" y="693.9" font-size="5.5" text-anchor="middle" fill="#F2302A">G</text>
<text x="390.75" y="693.9" font-size="5.5" text-anchor="middle" fill="#111">G</text>
<text x="394.92" y="693.9" font-size="5.5" text-anchor="middle" fill="#111">C</text>
<text x="353.25" y="699.8" font-size="5.5" text-anchor="middle" fill="#F2302A">K</text>
<text x="353.25" y="705.1" font-size="5.5" text-anchor="middle" fill="#F2302A">N</text>
<text x="365.75" y="699.8" font-size="5.5" text-anchor="middle" fill="#111">S</text>
<rect x="364.55" y="702.80" width="2.4" height="0.95" fill="#111"/>
<text x="378.25" y="699.8" font-size="5.5" text-anchor="middle" fill="#111">G</text>
<rect x="377.05" y="702.80" width="2.4" height="0.95" fill="#111"/>
<text x="390.75" y="699.8" font-size="5.5" text-anchor="middle" fill="#F2302A">G</text>
<text x="390.75" y="705.1" font-size="5.5" text-anchor="middle" fill="#F2302A">S</text>
<text x="349.00" y="711.3" font-size="5.5" text-anchor="middle" fill="#111">A</text>
<text x="353.00" y="711.3" font-size="5.5" text-anchor="middle" fill="#111">A</text>
<text x="357.00" y="711.3" font-size="5.5" text-anchor="middle" fill="#F2302A">C</text>
<rect x="361.40" y="709.0" width="2.0" height="0.9" fill="#111"/>
<rect x="364.15" y="709.0" width="2.0" height="0.9" fill="#111"/>
<rect x="366.90" y="709.0" width="2.0" height="0.9" fill="#111"/>
<rect x="374.10" y="709.0" width="2.0" height="0.9" fill="#111"/>
<rect x="376.85" y="709.0" width="2.0" height="0.9" fill="#111"/>
<rect x="379.60" y="709.0" width="2.0" height="0.9" fill="#111"/>
<text x="387.42" y="711.3" font-size="5.5" text-anchor="middle" fill="#F2302A">A</text>
<text x="391.25" y="711.3" font-size="5.5" text-anchor="middle" fill="#111">G</text>
<text x="395.08" y="711.3" font-size="5.5" text-anchor="middle" fill="#111">C</text>
<text x="409.93" y="693.9" font-size="5.5" text-anchor="middle" fill="#F2302A">G</text>
<text x="414.00" y="693.9" font-size="5.5" text-anchor="middle" fill="#111">C</text>
<text x="418.07" y="693.9" font-size="5.5" text-anchor="middle" fill="#111">C</text>
<text x="414.50" y="699.8" font-size="5.5" text-anchor="middle" fill="#F2302A">G</text>
<text x="414.50" y="705.1" font-size="5.5" text-anchor="middle" fill="#F2302A">C</text>
<text x="409.93" y="711.3" font-size="5.5" text-anchor="middle" fill="#F2302A">T</text>
<text x="414.00" y="711.3" font-size="5.5" text-anchor="middle" fill="#111">C</text>
<text x="418.07" y="711.3" font-size="5.5" text-anchor="middle" fill="#111">C</text>
<text x="434.31" y="693.9" font-size="5.5" text-anchor="middle" fill="#111">C</text>
<text x="438.13" y="693.9" font-size="5.5" text-anchor="middle" fill="#111">T</text>
<text x="441.96" y="693.9" font-size="5.5" text-anchor="middle" fill="#F2302A">G</text>
<text x="445.78" y="693.9" font-size="5.5" text-anchor="middle" fill="#111">G</text>
<text x="449.60" y="693.9" font-size="5.5" text-anchor="middle" fill="#111">G</text>
<text x="453.42" y="693.9" font-size="5.5" text-anchor="middle" fill="#111">C</text>
<text x="457.24" y="693.9" font-size="5.5" text-anchor="middle" fill="#111">C</text>
<text x="461.07" y="693.9" font-size="5.5" text-anchor="middle" fill="#111">A</text>
<text x="464.89" y="693.9" font-size="5.5" text-anchor="middle" fill="#111">C</text>
<text x="468.71" y="693.9" font-size="5.5" text-anchor="middle" fill="#111">G</text>
<text x="472.53" y="693.9" font-size="5.5" text-anchor="middle" fill="#111">A</text>
<text x="476.36" y="693.9" font-size="5.5" text-anchor="middle" fill="#111">C</text>
<text x="480.18" y="693.9" font-size="5.5" text-anchor="middle" fill="#111">C</text>
<text x="484.00" y="693.9" font-size="5.5" text-anchor="middle" fill="#111">C</text>
<text x="487.82" y="693.9" font-size="5.5" text-anchor="middle" fill="#111">G</text>
<text x="491.64" y="693.9" font-size="5.5" text-anchor="middle" fill="#F2302A">A</text>
<text x="495.47" y="693.9" font-size="5.5" text-anchor="middle" fill="#111">A</text>
<text x="499.29" y="693.9" font-size="5.5" text-anchor="middle" fill="#111">G</text>
<text x="503.11" y="693.9" font-size="5.5" text-anchor="middle" fill="#111">A</text>
<text x="506.93" y="693.9" font-size="5.5" text-anchor="middle" fill="#111">C</text>
<text x="510.76" y="693.9" font-size="5.5" text-anchor="middle" fill="#111">A</text>
<text x="514.58" y="693.9" font-size="5.5" text-anchor="middle" fill="#111">C</text>
<text x="518.40" y="693.9" font-size="5.5" text-anchor="middle" fill="#111">T</text>
<text x="522.22" y="693.9" font-size="5.5" text-anchor="middle" fill="#111">G</text>
<text x="526.04" y="693.9" font-size="5.5" text-anchor="middle" fill="#111">G</text>
<text x="529.87" y="693.9" font-size="5.5" text-anchor="middle" fill="#F2302A">T</text>
<text x="533.69" y="693.9" font-size="5.5" text-anchor="middle" fill="#111">A</text>
<text x="436.60" y="699.8" font-size="5.5" text-anchor="middle" fill="#111">L</text>
<text x="436.60" y="705.1" font-size="5.5" text-anchor="middle" fill="#111">L</text>
<text x="448.45" y="699.8" font-size="5.5" text-anchor="middle" fill="#111">G</text>
<text x="448.45" y="705.1" font-size="5.5" text-anchor="middle" fill="#111">G</text>
<text x="460.30" y="699.8" font-size="5.5" text-anchor="middle" fill="#111">H</text>
<text x="460.30" y="705.1" font-size="5.5" text-anchor="middle" fill="#111">H</text>
<text x="472.15" y="699.8" font-size="5.5" text-anchor="middle" fill="#111">V</text>
<text x="472.15" y="705.1" font-size="5.5" text-anchor="middle" fill="#111">V</text>
<text x="484.00" y="699.8" font-size="5.5" text-anchor="middle" fill="#111">P</text>
<text x="484.00" y="705.1" font-size="5.5" text-anchor="middle" fill="#111">P</text>
<text x="495.85" y="699.8" font-size="5.5" text-anchor="middle" fill="#F2302A">K</text>
<text x="495.85" y="705.1" font-size="5.5" text-anchor="middle" fill="#111">E</text>
<text x="507.70" y="699.8" font-size="5.5" text-anchor="middle" fill="#111">T</text>
<text x="507.70" y="705.1" font-size="5.5" text-anchor="middle" fill="#111">T</text>
<text x="519.55" y="699.8" font-size="5.5" text-anchor="middle" fill="#111">L</text>
<text x="519.55" y="705.1" font-size="5.5" text-anchor="middle" fill="#111">L</text>
<text x="531.40" y="699.8" font-size="5.5" text-anchor="middle" fill="#F2302A">V</text>
<text x="531.40" y="705.1" font-size="5.5" text-anchor="middle" fill="#F2302A">E</text>
<text x="434.31" y="711.3" font-size="5.5" text-anchor="middle" fill="#111">C</text>
<text x="438.13" y="711.3" font-size="5.5" text-anchor="middle" fill="#111">T</text>
<text x="441.96" y="711.3" font-size="5.5" text-anchor="middle" fill="#F2302A">C</text>
<text x="445.78" y="711.3" font-size="5.5" text-anchor="middle" fill="#111">G</text>
<text x="449.60" y="711.3" font-size="5.5" text-anchor="middle" fill="#111">G</text>
<text x="453.42" y="711.3" font-size="5.5" text-anchor="middle" fill="#111">C</text>
<text x="457.24" y="711.3" font-size="5.5" text-anchor="middle" fill="#111">C</text>
<text x="461.07" y="711.3" font-size="5.5" text-anchor="middle" fill="#111">A</text>
<text x="464.89" y="711.3" font-size="5.5" text-anchor="middle" fill="#111">C</text>
<text x="468.71" y="711.3" font-size="5.5" text-anchor="middle" fill="#111">G</text>
<text x="472.53" y="711.3" font-size="5.5" text-anchor="middle" fill="#111">A</text>
<text x="476.36" y="711.3" font-size="5.5" text-anchor="middle" fill="#111">C</text>
<text x="480.18" y="711.3" font-size="5.5" text-anchor="middle" fill="#111">C</text>
<text x="484.00" y="711.3" font-size="5.5" text-anchor="middle" fill="#111">C</text>
<text x="487.82" y="711.3" font-size="5.5" text-anchor="middle" fill="#111">G</text>
<text x="491.64" y="711.3" font-size="5.5" text-anchor="middle" fill="#F2302A">G</text>
<text x="495.47" y="711.3" font-size="5.5" text-anchor="middle" fill="#111">A</text>
<text x="499.29" y="711.3" font-size="5.5" text-anchor="middle" fill="#111">G</text>
<text x="503.11" y="711.3" font-size="5.5" text-anchor="middle" fill="#111">A</text>
<text x="506.93" y="711.3" font-size="5.5" text-anchor="middle" fill="#111">C</text>
<text x="510.76" y="711.3" font-size="5.5" text-anchor="middle" fill="#111">A</text>
<text x="514.58" y="711.3" font-size="5.5" text-anchor="middle" fill="#111">C</text>
<text x="518.40" y="711.3" font-size="5.5" text-anchor="middle" fill="#111">T</text>
<text x="522.22" y="711.3" font-size="5.5" text-anchor="middle" fill="#111">G</text>
<text x="526.04" y="711.3" font-size="5.5" text-anchor="middle" fill="#111">G</text>
<text x="529.87" y="711.3" font-size="5.5" text-anchor="middle" fill="#F2302A">A</text>
<text x="533.69" y="711.3" font-size="5.5" text-anchor="middle" fill="#111">A</text>
<text x="549.55" y="693.9" font-size="5.5" text-anchor="middle" fill="#111">C</text>
<text x="552.85" y="693.9" font-size="5.5" text-anchor="middle" fill="#F2302A">T</text>
<text x="556.15" y="693.9" font-size="5.5" text-anchor="middle" fill="#111">C</text>
<text x="562.75" y="693.9" font-size="5.5" text-anchor="middle" fill="#111">C</text>
<text x="566.05" y="693.9" font-size="5.5" text-anchor="middle" fill="#F2302A">G</text>
<text x="569.35" y="693.9" font-size="5.5" text-anchor="middle" fill="#111">C</text>
<text x="553.10" y="699.8" font-size="5.5" text-anchor="middle" fill="#F2302A">L</text>
<text x="565.70" y="699.8" font-size="5.5" text-anchor="middle" fill="#F2302A">R</text>
<text x="553.10" y="705.1" font-size="5.5" text-anchor="middle" fill="#F2302A">P</text>
<text x="565.70" y="705.1" font-size="5.5" text-anchor="middle" fill="#F2302A">H</text>
<text x="549.55" y="711.3" font-size="5.5" text-anchor="middle" fill="#111">C</text>
<text x="552.85" y="711.3" font-size="5.5" text-anchor="middle" fill="#F2302A">C</text>
<text x="556.15" y="711.3" font-size="5.5" text-anchor="middle" fill="#111">C</text>
<text x="562.75" y="711.3" font-size="5.5" text-anchor="middle" fill="#111">C</text>
<text x="566.05" y="711.3" font-size="5.5" text-anchor="middle" fill="#F2302A">A</text>
<text x="569.35" y="711.3" font-size="5.5" text-anchor="middle" fill="#111">C</text>
<text x="585.01" y="693.9" font-size="5.5" text-anchor="middle" fill="#111">C</text>
<text x="588.82" y="693.9" font-size="5.5" text-anchor="middle" fill="#111">T</text>
<text x="592.63" y="693.9" font-size="5.5" text-anchor="middle" fill="#F2302A">G</text>
<text x="596.45" y="693.9" font-size="5.5" text-anchor="middle" fill="#111">C</text>
<text x="600.26" y="693.9" font-size="5.5" text-anchor="middle" fill="#111">T</text>
<text x="604.07" y="693.9" font-size="5.5" text-anchor="middle" fill="#111">G</text>
<text x="607.89" y="693.9" font-size="5.5" text-anchor="middle" fill="#111">G</text>
<text x="611.70" y="693.9" font-size="5.5" text-anchor="middle" fill="#111">C</text>
<text x="615.51" y="693.9" font-size="5.5" text-anchor="middle" fill="#111">T</text>
<text x="619.33" y="693.9" font-size="5.5" text-anchor="middle" fill="#111">T</text>
<text x="623.14" y="693.9" font-size="5.5" text-anchor="middle" fill="#111">C</text>
<text x="626.95" y="693.9" font-size="5.5" text-anchor="middle" fill="#111">G</text>
<text x="630.77" y="693.9" font-size="5.5" text-anchor="middle" fill="#111">A</text>
<text x="634.58" y="693.9" font-size="5.5" text-anchor="middle" fill="#111">T</text>
<text x="638.39" y="693.9" font-size="5.5" text-anchor="middle" fill="#F2302A">A</text>
<text x="589.00" y="699.8" font-size="5.5" text-anchor="middle" fill="#111">L</text>
<text x="589.00" y="705.1" font-size="5.5" text-anchor="middle" fill="#111">L</text>
<text x="600.60" y="699.8" font-size="5.5" text-anchor="middle" fill="#111">L</text>
<text x="600.60" y="705.1" font-size="5.5" text-anchor="middle" fill="#111">L</text>
<text x="612.20" y="699.8" font-size="5.5" text-anchor="middle" fill="#111">G</text>
<text x="612.20" y="705.1" font-size="5.5" text-anchor="middle" fill="#111">G</text>
<text x="623.80" y="699.8" font-size="5.5" text-anchor="middle" fill="#111">S</text>
<text x="623.80" y="705.1" font-size="5.5" text-anchor="middle" fill="#111">S</text>
<text x="635.40" y="699.8" font-size="5.5" text-anchor="middle" fill="#F2302A">I</text>
<text x="635.40" y="705.1" font-size="5.5" text-anchor="middle" fill="#F2302A">M</text>
<text x="585.01" y="711.3" font-size="5.5" text-anchor="middle" fill="#111">C</text>
<text x="588.82" y="711.3" font-size="5.5" text-anchor="middle" fill="#111">T</text>
<text x="592.63" y="711.3" font-size="5.5" text-anchor="middle" fill="#F2302A">C</text>
<text x="596.45" y="711.3" font-size="5.5" text-anchor="middle" fill="#111">C</text>
<text x="600.26" y="711.3" font-size="5.5" text-anchor="middle" fill="#111">T</text>
<text x="604.07" y="711.3" font-size="5.5" text-anchor="middle" fill="#111">G</text>
<text x="607.89" y="711.3" font-size="5.5" text-anchor="middle" fill="#111">G</text>
<text x="611.70" y="711.3" font-size="5.5" text-anchor="middle" fill="#111">C</text>
<text x="615.51" y="711.3" font-size="5.5" text-anchor="middle" fill="#111">T</text>
<text x="619.33" y="711.3" font-size="5.5" text-anchor="middle" fill="#111">T</text>
<text x="623.14" y="711.3" font-size="5.5" text-anchor="middle" fill="#111">C</text>
<text x="626.95" y="711.3" font-size="5.5" text-anchor="middle" fill="#111">G</text>
<text x="630.77" y="711.3" font-size="5.5" text-anchor="middle" fill="#111">A</text>
<text x="634.58" y="711.3" font-size="5.5" text-anchor="middle" fill="#111">T</text>
<text x="638.39" y="711.3" font-size="5.5" text-anchor="middle" fill="#F2302A">G</text>
<text x="653.53" y="693.9" font-size="5.5" text-anchor="middle" fill="#111">C</text>
<text x="657.18" y="693.9" font-size="5.5" text-anchor="middle" fill="#111">T</text>
<text x="660.83" y="693.9" font-size="5.5" text-anchor="middle" fill="#111">C</text>
<text x="664.48" y="693.9" font-size="5.5" text-anchor="middle" fill="#111">T</text>
<text x="668.12" y="693.9" font-size="5.5" text-anchor="middle" fill="#111">T</text>
<text x="671.77" y="693.9" font-size="5.5" text-anchor="middle" fill="#111">C</text>
<text x="656.90" y="699.8" font-size="5.5" text-anchor="middle" fill="#111">L</text>
<text x="667.90" y="699.8" font-size="5.5" text-anchor="middle" fill="#F2302A">F</text>
<text x="656.90" y="705.1" font-size="5.5" text-anchor="middle" fill="#111">L</text>
<text x="667.90" y="705.1" font-size="5.5" text-anchor="middle" fill="#F2302A">L</text>
<text x="653.53" y="711.3" font-size="5.5" text-anchor="middle" fill="#111">C</text>
<text x="657.18" y="711.3" font-size="5.5" text-anchor="middle" fill="#111">T</text>
<text x="660.83" y="711.3" font-size="5.5" text-anchor="middle" fill="#111">C</text>
<text x="664.48" y="711.3" font-size="5.5" text-anchor="middle" fill="#111">C</text>
<text x="668.12" y="711.3" font-size="5.5" text-anchor="middle" fill="#111">T</text>
<text x="671.77" y="711.3" font-size="5.5" text-anchor="middle" fill="#111">C</text>
</svg>
</body></html>
